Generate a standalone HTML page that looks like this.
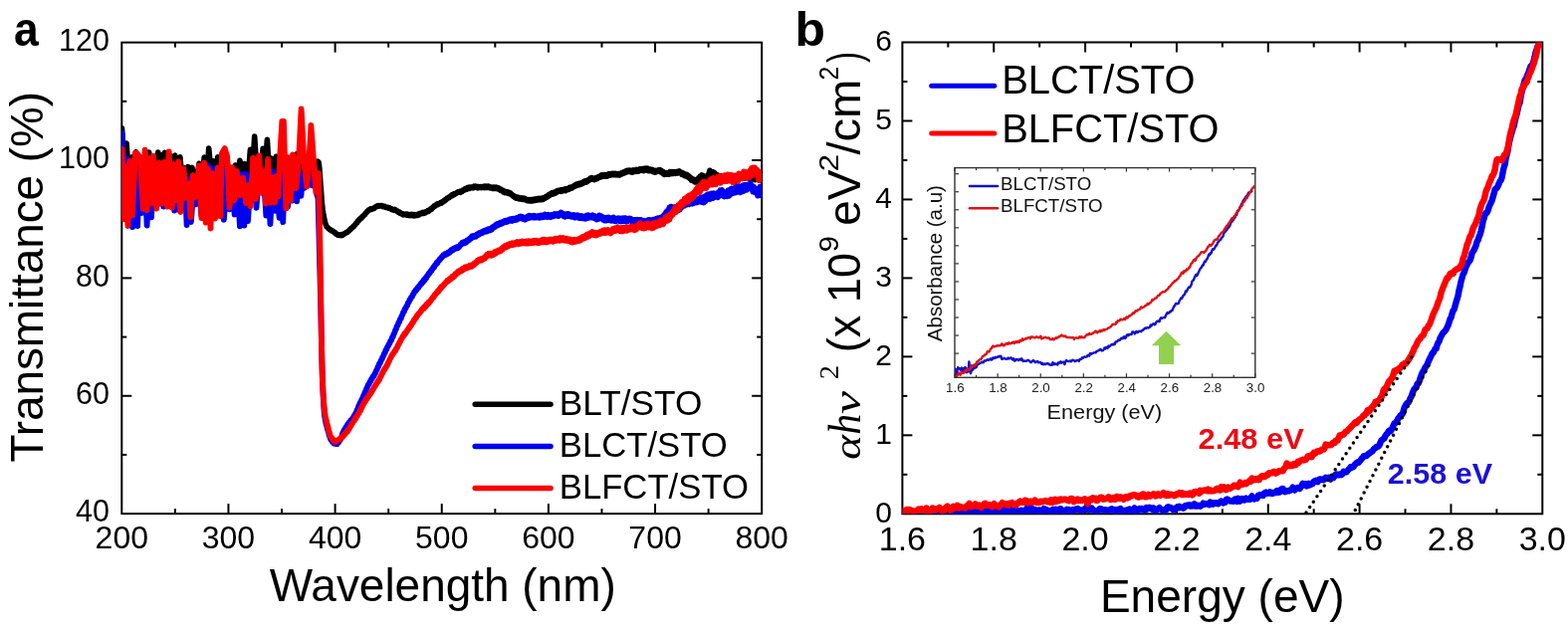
<!DOCTYPE html>
<html><head><meta charset="utf-8"><title>Figure</title>
<style>
html,body{margin:0;padding:0;background:#fff;}
body{width:1575px;height:632px;overflow:hidden;}
svg{display:block;}
text{font-family:'Liberation Sans',Arial,Helvetica,sans-serif;}
</style></head>
<body>
<svg width="1575" height="632" viewBox="0 0 1575 632">
<rect width="1575" height="632" fill="#fff"/>
<defs><clipPath id="ca"><rect x="122.3" y="42.65" width="642.9" height="473.5"/></clipPath><clipPath id="cb"><rect x="906.4" y="42.5" width="642.9" height="473.8"/></clipPath><clipPath id="ci"><rect x="959" y="168.6" width="301.8" height="210.7"/></clipPath></defs>
<rect x="122.3" y="42.65" width="642.9" height="473.5" fill="none" stroke="#000" stroke-width="2"/>
<line x1="175.88" y1="516.15" x2="175.88" y2="511.15" stroke="#000" stroke-width="2" />
<line x1="175.88" y1="42.65" x2="175.88" y2="47.65" stroke="#000" stroke-width="2" />
<line x1="229.45" y1="516.15" x2="229.45" y2="506.15" stroke="#000" stroke-width="2" />
<line x1="229.45" y1="42.65" x2="229.45" y2="52.65" stroke="#000" stroke-width="2" />
<line x1="283.03" y1="516.15" x2="283.03" y2="511.15" stroke="#000" stroke-width="2" />
<line x1="283.03" y1="42.65" x2="283.03" y2="47.65" stroke="#000" stroke-width="2" />
<line x1="336.6" y1="516.15" x2="336.6" y2="506.15" stroke="#000" stroke-width="2" />
<line x1="336.6" y1="42.65" x2="336.6" y2="52.65" stroke="#000" stroke-width="2" />
<line x1="390.18" y1="516.15" x2="390.18" y2="511.15" stroke="#000" stroke-width="2" />
<line x1="390.18" y1="42.65" x2="390.18" y2="47.65" stroke="#000" stroke-width="2" />
<line x1="443.75" y1="516.15" x2="443.75" y2="506.15" stroke="#000" stroke-width="2" />
<line x1="443.75" y1="42.65" x2="443.75" y2="52.65" stroke="#000" stroke-width="2" />
<line x1="497.33" y1="516.15" x2="497.33" y2="511.15" stroke="#000" stroke-width="2" />
<line x1="497.33" y1="42.65" x2="497.33" y2="47.65" stroke="#000" stroke-width="2" />
<line x1="550.9" y1="516.15" x2="550.9" y2="506.15" stroke="#000" stroke-width="2" />
<line x1="550.9" y1="42.65" x2="550.9" y2="52.65" stroke="#000" stroke-width="2" />
<line x1="604.48" y1="516.15" x2="604.48" y2="511.15" stroke="#000" stroke-width="2" />
<line x1="604.48" y1="42.65" x2="604.48" y2="47.65" stroke="#000" stroke-width="2" />
<line x1="658.05" y1="516.15" x2="658.05" y2="506.15" stroke="#000" stroke-width="2" />
<line x1="658.05" y1="42.65" x2="658.05" y2="52.65" stroke="#000" stroke-width="2" />
<line x1="711.62" y1="516.15" x2="711.62" y2="511.15" stroke="#000" stroke-width="2" />
<line x1="711.62" y1="42.65" x2="711.62" y2="47.65" stroke="#000" stroke-width="2" />
<line x1="122.3" y1="456.96" x2="127.3" y2="456.96" stroke="#000" stroke-width="2" />
<line x1="765.2" y1="456.96" x2="760.2" y2="456.96" stroke="#000" stroke-width="2" />
<line x1="122.3" y1="397.77" x2="132.3" y2="397.77" stroke="#000" stroke-width="2" />
<line x1="765.2" y1="397.77" x2="755.2" y2="397.77" stroke="#000" stroke-width="2" />
<line x1="122.3" y1="338.59" x2="127.3" y2="338.59" stroke="#000" stroke-width="2" />
<line x1="765.2" y1="338.59" x2="760.2" y2="338.59" stroke="#000" stroke-width="2" />
<line x1="122.3" y1="279.4" x2="132.3" y2="279.4" stroke="#000" stroke-width="2" />
<line x1="765.2" y1="279.4" x2="755.2" y2="279.4" stroke="#000" stroke-width="2" />
<line x1="122.3" y1="220.21" x2="127.3" y2="220.21" stroke="#000" stroke-width="2" />
<line x1="765.2" y1="220.21" x2="760.2" y2="220.21" stroke="#000" stroke-width="2" />
<line x1="122.3" y1="161.02" x2="132.3" y2="161.02" stroke="#000" stroke-width="2" />
<line x1="765.2" y1="161.02" x2="755.2" y2="161.02" stroke="#000" stroke-width="2" />
<line x1="122.3" y1="101.84" x2="127.3" y2="101.84" stroke="#000" stroke-width="2" />
<line x1="765.2" y1="101.84" x2="760.2" y2="101.84" stroke="#000" stroke-width="2" />
<text x="122.3" y="550.7" font-size="32" text-anchor="middle" fill="#000" >200</text>
<text x="229.45" y="550.7" font-size="32" text-anchor="middle" fill="#000" >300</text>
<text x="336.6" y="550.7" font-size="32" text-anchor="middle" fill="#000" >400</text>
<text x="443.75" y="550.7" font-size="32" text-anchor="middle" fill="#000" >500</text>
<text x="550.9" y="550.7" font-size="32" text-anchor="middle" fill="#000" >600</text>
<text x="658.05" y="550.7" font-size="32" text-anchor="middle" fill="#000" >700</text>
<text x="765.2" y="550.7" font-size="32" text-anchor="middle" fill="#000" >800</text>
<text x="110" y="524.35" font-size="30.5" text-anchor="end" fill="#000" >40</text>
<text x="110" y="405.97" font-size="30.5" text-anchor="end" fill="#000" >60</text>
<text x="110" y="287.6" font-size="30.5" text-anchor="end" fill="#000" >80</text>
<text x="110" y="169.22" font-size="30.5" text-anchor="end" fill="#000" >100</text>
<text x="110" y="50.85" font-size="30.5" text-anchor="end" fill="#000" >120</text>
<g clip-path="url(#ca)">
<polyline fill="none" stroke="#000" stroke-width="5.6" stroke-linejoin="round" stroke-linecap="round"  points="122.5,129 125.3,174.9 127.1,144.1 129.9,185 132.6,157.7 134.7,182 136.6,152.7 138.7,179.2 141,165.1 143.6,177.4 146.6,154.2 148.2,177.6 149.7,153.1 152,179.8 154.8,160.7 157,179.4 158.8,153 160.6,176.3 162.3,155.9 163.7,174 165.4,153.3 168.2,179.2 170.9,156.3 173.5,184.4 175.8,156 178.5,181.4 180.9,157.8 182.9,182.3 184.6,168.5 186.6,174.5 188.9,167.7 191.3,179.3 193,168.4 194.8,182.5 196.4,172.5 198.1,177.7 200,164.3 202.5,184 205.2,158.1 208,178.3 209.7,149 212.6,178.5 214.3,161.9 216.7,178.3 218.7,157.8 220.5,184.8 223.3,161.5 225.5,182.2 228.1,159.9 230.1,184.9 231.8,170.3 234.2,180.8 236.4,166 238.4,177.9 240.9,161.2 243.1,178 245.9,164.7 248.8,185 251.4,150.4 253,180.5 255.7,137.1 258.1,174.6 260.3,158.5 262.1,183.3 264.1,149.2 266.1,171.9 268.4,140.3 270.2,171.9 272.3,158.9 274.6,179 277.4,157.3 279.7,180.4 282.5,154.6 285.3,184.6 287.4,160.7 290.3,183 293,163.6 295.5,177.3 298.5,154.6 300.5,183.2 302,152.7 304.8,173.8 306.4,160 308.6,177.9 311.1,157.5 314,180.3 316.4,165.8 318.1,184.7 318.5,163.8 319.3,162.3 320.1,163.2 320.9,169.6 321.7,181.8 322.5,191.6 323.3,203.4 324.1,210.4 324.9,215.9 325.7,219.6 326.5,223.4 327.3,225.7 328.1,227.7 328.9,228.3 329.7,229.5 330.5,229.7 331.3,230.8 332.1,230.9 332.9,231.8 333.7,231.7 334.5,232.6 335.3,232.7 336.1,233.9 336.9,233.9 337.7,235.3 338.5,235.2 339.3,236.2 340.1,235.9 340.9,236.5 341.7,236 342.5,236.6 343.3,235.6 344.1,236.2 344.9,235.2 345.7,235.2 346.5,234.2 347.3,234.2 348.1,233.2 348.9,233.4 349.7,232.3 350.5,232.3 351.3,230.8 352.1,230.6 352.9,229.2 353.7,229.2 354.5,227.8 355.3,227.6 356.1,226.1 356.9,225.8 357.7,224.3 358.5,223.9 359.3,222.3 360.1,222.1 360.9,220.4 361.7,220.3 362.5,219 363.3,219.1 364.1,217.5 364.9,217.3 365.7,216 366.5,215.6 367.3,214.1 368.1,213.8 368.9,212.1 369.7,212.1 370.5,210.8 371.3,210.9 372.1,209.9 372.9,210.4 373.7,209.8 374.5,210 375.3,209.1 376.1,209.3 376.9,208 377.7,208 378.5,207 379.3,207.4 380.1,206.7 380.9,207.1 381.7,206.5 382.5,207 383.3,206.6 384.1,207.5 384.9,207 385.7,207.7 386.5,207.4 387.3,208.3 388.1,208 388.9,208.6 389.7,208.4 390.5,209.2 391.3,208.8 392.1,209.8 392.9,209.5 393.7,210.7 394.5,210.4 395.3,211.1 396.1,210.5 396.9,211.5 397.7,211.1 398.5,212.2 399.3,212 400.1,213.3 400.9,212.9 401.7,214.2 402.5,213.9 403.3,214.9 404.1,214.8 404.9,215.8 405.7,215.1 406.5,215.7 407.3,215.1 408.1,216 408.9,215.2 409.7,216.1 410.5,215.7 411.3,216.5 412.1,215.6 412.9,216.4 413.7,215.4 414.5,216.6 415.3,215.7 416.1,216.7 416.9,215.8 417.7,216.5 418.5,215.8 419.3,216.4 420.1,215.3 420.9,215.9 421.7,214.7 422.5,215 423.3,214 424.1,214.3 424.9,213.5 425.7,214.3 426.5,213.4 427.3,213.8 428.1,212.5 428.9,212.8 429.7,211.6 430.5,212.2 431.3,210.9 432.1,211 432.9,209.6 433.7,210 434.5,208.5 435.3,208.5 436.1,206.8 436.9,207.3 437.7,206 438.5,206.1 439.3,205 440.1,205.5 440.9,204.6 441.7,204.8 442.5,203.6 443.3,204.1 444.1,202.9 444.9,203.2 445.7,201.8 446.5,202 447.3,200.6 448.1,200.6 448.9,199.4 449.7,199.4 450.5,198.3 451.3,198.6 452.1,197.2 452.9,197.3 453.7,195.9 454.5,196.6 455.3,195.1 456.1,195.6 456.9,194.5 457.7,194.8 458.5,193.8 459.3,193.8 460.1,192.8 460.9,193.2 461.7,192.5 462.5,193.3 463.3,192.2 464.1,192.5 464.9,191.2 465.7,191.4 466.5,190.2 467.3,190.5 468.1,189.4 468.9,190 469.7,188.8 470.5,189.4 471.3,188.3 472.1,189.2 472.9,188.1 473.7,188.5 474.5,187.9 475.3,188.7 476.1,187.3 476.9,188.1 477.7,187.2 478.5,188.3 479.3,187.7 480.1,188.7 480.9,187.6 481.7,188.4 482.5,187.7 483.3,188.5 484.1,187.7 484.9,188.3 485.7,187.5 486.5,188.5 487.3,187.3 488.1,188.5 488.9,187.3 489.7,188.4 490.5,187.3 491.3,188.6 492.1,187.7 492.9,188.8 493.7,188.3 494.5,189.2 495.3,188.3 496.1,189.4 496.9,188.3 497.7,189.2 498.5,188.3 499.3,189.5 500.1,188.9 500.9,190 501.7,189.4 502.5,191 503.3,190.3 504.1,191.8 504.9,191.3 505.7,192.9 506.5,192.1 507.3,193.5 508.1,192.6 508.9,193.7 509.7,192.9 510.5,194.3 511.3,193.5 512.1,194.8 512.9,194.3 513.7,195.8 514.5,195.5 515.3,197.1 516.1,196.8 516.9,198.2 517.7,197.6 518.5,199 519.3,198.3 520.1,199.4 520.9,198.4 521.7,199.8 522.5,199.1 523.3,200 524.1,199 524.9,200.3 525.7,199.3 526.5,200.2 527.3,199.4 528.1,200.9 528.9,200.4 529.7,201.6 530.5,200.9 531.3,201.7 532.1,200.6 532.9,201.7 533.7,200.8 534.5,201.9 535.3,200.5 536.1,201.5 536.9,200.1 537.7,201.2 538.5,200 539.3,201.1 540.1,199.7 540.9,200.8 541.7,199.5 542.5,200.5 543.3,199.4 544.1,200.5 544.9,199.3 545.7,200.2 546.5,198.6 547.3,199.3 548.1,197.8 548.9,198.5 549.7,196.8 550.5,197.6 551.3,195.7 552.1,196.3 552.9,194.6 553.7,195.1 554.5,194 555.3,195 556.1,193.5 556.9,194.4 557.7,192.9 558.5,193.7 559.3,192 560.1,192.6 560.9,191.4 561.7,192.1 562.5,191.3 563.3,192.2 564.1,190.8 564.9,191.9 565.7,190.6 566.5,191.4 567.3,190.1 568.1,191.5 568.9,189.7 569.7,190.8 570.5,189.4 571.3,190.2 572.1,188.4 572.9,189.3 573.7,188.1 574.5,188.9 575.3,187.3 576.1,187.9 576.9,186.5 577.7,187 578.5,185.3 579.3,186.5 580.1,184.8 580.9,185.8 581.7,184.5 582.5,185.5 583.3,184.3 584.1,184.9 584.9,183.5 585.7,184.2 586.5,182.4 587.3,183.2 588.1,181.9 588.9,183.1 589.7,181.5 590.5,182 591.3,180.4 592.1,180.9 592.9,179.2 593.7,180.1 594.5,178.8 595.3,180.1 596.1,179.2 596.9,180.5 597.7,179.1 598.5,180 599.3,178.4 600.1,179.3 600.9,177.9 601.7,178.4 602.5,177.1 603.3,177.7 604.1,176 604.9,177.3 605.7,175.9 606.5,176.6 607.3,175.7 608.1,177.1 608.9,175.7 609.7,177.1 610.5,175.3 611.3,176.5 612.1,174.7 612.9,176.1 613.7,174.6 614.5,175.6 615.3,174.4 616.1,175.6 616.9,174.5 617.7,175.6 618.5,174.4 619.3,175.7 620.1,174.9 620.9,175.7 621.7,174.6 622.5,175.9 623.3,174.4 624.1,175 624.9,173.7 625.7,174.3 626.5,172.9 627.3,173.7 628.1,172.3 628.9,173.1 629.7,171.5 630.5,172.6 631.3,171.1 632.1,172.4 632.9,171.2 633.7,172.8 634.5,171.6 635.3,173 636.1,171 636.9,172.6 637.7,171.1 638.5,172.2 639.3,170.5 640.1,172.1 640.9,170.6 641.7,172.1 642.5,169.9 643.3,171.2 644.1,170 644.9,171 645.7,169.7 646.5,171.6 647.3,169.3 648.1,171 648.9,169.1 649.7,170.8 650.5,169.3 651.3,171.5 652.1,169.9 652.9,171.6 653.7,170.3 654.5,171.6 655.3,170.5 656.1,172.6 656.9,171.3 657.7,173.2 658.5,171.3 659.3,172.8 660.1,171.4 660.9,172.1 661.7,170.9 662.5,172 663.3,170.8 664.1,173 664.9,171.8 665.7,174.2 666.5,172.8 667.3,175.3 668.1,173.8 668.9,175 669.7,173.6 670.5,175.2 671.3,173.9 672.1,175.1 672.9,172.7 673.7,174 674.5,172.7 675.3,174.5 676.1,172.7 676.9,174.3 677.7,172.8 678.5,174.3 679.3,172.6 680.1,173.8 680.9,172.4 681.7,173.7 682.5,172 683.3,173.9 684.1,173.1 684.9,175.2 685.7,173.7 686.5,175.8 687.3,174.6 688.1,176.7 688.9,175.1 689.7,177.2 690.5,175.7 691.3,178.2 692.1,176.9 692.9,179.4 693.7,178.4 694.5,181.2 695.3,179.9 696.1,181.5 696.9,180.2 697.7,182.8 698.5,181.3 699.3,182.9 700.1,180.9 700.9,181.8 701.7,178.8 702.5,179.7 703.3,177.1 704.1,177.6 704.9,176 705.7,177.3 706.5,176.6 707.3,178.9 708.1,178.7 708.9,180.8 709.7,179.5 710.5,180.6 711.3,175.5 712.1,174.5 712.9,171.3 713.7,173.5 714.5,172.6 715.3,174.2 716.1,172.8 716.9,175.4 717.7,173.6 718.5,176 719.3,175.1 720.1,177.9 720.9,175.9 721.7,178 722.5,176.8 723.3,178.7 724.1,176.8 724.9,178.7 725.7,177.7 726.5,180.1 727.3,178.2 728.1,180.2 728.9,177.8 729.7,179.7 730.5,178 731.3,179 732.1,177.3 732.9,178.5 733.7,177 734.5,179.5 735.3,177.1 736.1,179.5 736.9,177.7 737.7,179.8 738.5,177.5 739.3,179.7 740.1,177 740.9,178.8 741.7,176.6 742.5,178.2 743.3,176.2 744.1,178.2 744.9,176.6 745.7,179.3 746.5,177.4 747.3,179.2 748.1,176.8 748.9,178.9 749.7,177.1 750.5,178.9 751.3,176.9 752.1,179.3 752.9,176.9 753.7,178.7 754.5,176.8 755.3,179.7 756.1,177.8 756.9,179.5 757.7,178.3 758.5,180.7 759.3,178 760.1,180.2 760.9,178.6 761.7,180.3 762.5,178.6 763.3,181.3 764.1,179.5 764.9,181.1"/>
<polyline fill="none" stroke="#0000f0" stroke-width="5.8" stroke-linejoin="round" stroke-linecap="round"  points="122.5,134 125.2,217.1 127.1,159.2 128.7,218.1 131,164.4 133.1,228.2 135.6,166.9 138.2,227.1 139.8,173.8 142.2,214.1 145,165.6 147.6,226.5 150.1,170.8 152,218.3 154.3,177.7 156.7,207.6 158.7,177.4 160.7,204.6 162.8,174.9 164.3,207.5 166,171.2 167.6,204.4 170.4,170.7 172,205.8 173.6,182.8 175.2,211.5 177.4,166.9 179.3,210.7 181.9,185.3 183.8,207.4 185.5,175.6 187.6,226.2 190.3,179.5 191.9,223 194.6,185.7 197,205.3 199.9,179.5 202.3,216.2 204.4,176.9 207.2,214.8 209.2,166.3 211.7,212.6 214.4,169.3 216.9,209.3 219,168.6 221,209 222.8,167.3 224.9,220.9 227.6,181.9 230.5,210.3 232.9,168.8 235.6,215.6 238.2,179.2 240.9,227.4 243.3,175.2 245.3,226.7 247,174.7 249,222.2 251.7,179 254.2,201.1 255.9,175.2 257.5,208.9 260.4,167.8 263,193.8 265.2,182 267.3,216.5 269.5,169.6 271.4,225 274.4,172.1 276.2,211.8 277.8,186.4 280.6,218.8 282.7,169.8 284.2,223.2 286.2,173.7 289.1,207.8 292,180.6 293.7,201.6 295.4,167.9 298.2,202.3 300,168.5 302.4,196.9 303.8,177.5 305.7,188.9 307.8,173.4 310,186.2 312.9,175.8 314.5,186.6 316.3,168.5 318,194.5 319.5,199.5 320.3,231 321.1,263.7 321.9,295.2 322.7,332.9 323.5,368.2 324.3,390.9 325.1,407.2 325.9,417 326.7,421.7 327.5,425.9 328.3,428.3 329.1,431.8 329.9,433.9 330.7,437.5 331.5,439.5 332.3,441.9 333.1,442.6 333.9,444.1 334.7,444.1 335.5,445.6 336.3,445.2 337.1,446.1 337.9,445.7 338.7,446.1 339.5,444.4 340.3,444.3 341.1,442.5 341.9,441.8 342.7,439.5 343.5,438 344.3,434.8 345.1,433.5 345.9,431.7 346.7,431 347.5,429 348.3,428.7 349.1,426.5 349.9,426 350.7,424.3 351.5,424.1 352.3,422.2 353.1,422 353.9,420.5 354.7,420.2 355.5,418 356.3,417.4 357.1,415.2 357.9,414.4 358.7,411.7 359.5,410.6 360.3,407.8 361.1,406.5 361.9,404.2 362.7,403.2 363.5,401.1 364.3,400 365.1,397.6 365.9,396.3 366.7,393.7 367.5,392.7 368.3,390.1 369.1,388.9 369.9,386.5 370.7,385.9 371.5,383.6 372.3,382.9 373.1,380.8 373.9,380.2 374.7,378.2 375.5,378 376.3,375.7 377.1,374.8 377.9,372.3 378.7,371.5 379.5,368.9 380.3,368.1 381.1,365.1 381.9,364.6 382.7,362 383.5,361.4 384.3,358.8 385.1,357.8 385.9,355.4 386.7,354.4 387.5,351.8 388.3,351.1 389.1,348.6 389.9,347.7 390.7,345.6 391.5,344.9 392.3,342.3 393.1,341.9 393.9,339 394.7,338.4 395.5,335.6 396.3,334.5 397.1,331.8 397.9,330.5 398.7,327.7 399.5,326.9 400.3,324.4 401.1,323.4 401.9,320.9 402.7,320.1 403.5,317.5 404.3,316.2 405.1,313.5 405.9,313.1 406.7,310.4 407.5,309.9 408.3,307.6 409.1,306.9 409.9,304.1 410.7,303.6 411.5,301.3 412.3,300.6 413.1,298.6 413.9,298.1 414.7,296 415.5,295.3 416.3,293 417.1,292.7 417.9,290.9 418.7,291 419.5,289.2 420.3,289.1 421.1,287 421.9,286.8 422.7,284.9 423.5,285.1 424.3,283.2 425.1,283.3 425.9,281 426.7,281.4 427.5,279.1 428.3,279.3 429.1,277 429.9,276.7 430.7,274.7 431.5,274.6 432.3,272.8 433.1,272.5 433.9,270.6 434.7,270.2 435.5,268.2 436.3,268.4 437.1,266 437.9,265.8 438.7,263.8 439.5,264.1 440.3,262.1 441.1,261.8 441.9,260.1 442.7,260.1 443.5,258.3 444.3,258.3 445.1,256.4 445.9,256.8 446.7,255.2 447.5,256 448.3,254.7 449.1,255.4 449.9,253.7 450.7,254.5 451.5,252.9 452.3,253.3 453.1,251.3 453.9,251.8 454.7,250.4 455.5,251.1 456.3,249.5 457.1,250 457.9,248.8 458.7,249.5 459.5,248.1 460.3,248.9 461.1,247.4 461.9,247.3 462.7,245.4 463.5,245.4 464.3,243.7 465.1,244.7 465.9,243.3 466.7,244.1 467.5,242.9 468.3,243.6 469.1,241.4 469.9,242.1 470.7,240.5 471.5,240.9 472.3,239.2 473.1,239.6 473.9,237.5 474.7,238.7 475.5,237 476.3,238 477.1,237.1 477.9,237.8 478.7,235.8 479.5,236.5 480.3,234.7 481.1,235.6 481.9,234 482.7,234.5 483.5,233.2 484.3,234.2 485.1,232.4 485.9,233 486.7,231.7 487.5,232.8 488.3,231.4 489.1,232.4 489.9,230.6 490.7,231.6 491.5,230.1 492.3,231.4 493.1,229.8 493.9,230.7 494.7,228.2 495.5,228.9 496.3,227.3 497.1,227.9 497.9,226.1 498.7,227.1 499.5,225.1 500.3,226.2 501.1,224.4 501.9,225.4 502.7,223.8 503.5,224.9 504.3,223.4 505.1,224.1 505.9,222.5 506.7,223.3 507.5,221.7 508.3,223 509.1,221.8 509.9,222.7 510.7,220.9 511.5,221.6 512.3,220.2 513.1,221.6 513.9,220 514.7,221.9 515.5,219.8 516.3,221.3 517.1,219.7 517.9,220.9 518.7,219.3 519.5,220.6 520.3,218.7 521.1,219.4 521.9,217.7 522.7,219.2 523.5,217.6 524.3,219.4 525.1,218 525.9,220.1 526.7,219.1 527.5,220.7 528.3,218.8 529.1,219.6 529.9,217.4 530.7,219.2 531.5,216.7 532.3,218.7 533.1,217.1 533.9,218.1 534.7,217 535.5,218.4 536.3,216.9 537.1,218.6 537.9,217.4 538.7,218.5 539.5,217.3 540.3,218.4 541.1,217.1 541.9,218.8 542.7,216.8 543.5,218.4 544.3,216.4 545.1,218.2 545.9,216.2 546.7,217.9 547.5,215.5 548.3,217.7 549.1,216.1 549.9,218.1 550.7,215.7 551.5,217.7 552.3,216.5 553.1,218.2 553.9,215.9 554.7,217.4 555.5,215.7 556.3,217.1 557.1,215 557.9,216.7 558.7,215.2 559.5,216.4 560.3,215.1 561.1,217 561.9,214.8 562.7,215.9 563.5,213.5 564.3,215.4 565.1,214.6 565.9,217.1 566.7,215.7 567.5,217.7 568.3,215.2 569.1,216.9 569.9,215.1 570.7,217.1 571.5,215.1 572.3,217.2 573.1,216 573.9,217.7 574.7,216.4 575.5,217.8 576.3,215.9 577.1,218.5 577.9,216.5 578.7,218.4 579.5,216.3 580.3,218 581.1,216.6 581.9,219 582.7,217 583.5,219.1 584.3,217 585.1,219.3 585.9,217.4 586.7,219.4 587.5,217.5 588.3,219.8 589.1,216.8 589.9,219.1 590.7,216.2 591.5,218.8 592.3,216.7 593.1,218.5 593.9,216.7 594.7,217.9 595.5,216.4 596.3,218.9 597.1,217 597.9,219.6 598.7,218.2 599.5,220.5 600.3,218.5 601.1,219.9 601.9,216.4 602.7,218.9 603.5,217 604.3,219.5 605.1,217.8 605.9,220.7 606.7,218.7 607.5,221.5 608.3,219 609.1,221.4 609.9,218.7 610.7,221 611.5,218.6 612.3,221.2 613.1,219.3 613.9,221.7 614.7,219.1 615.5,220.9 616.3,218.5 617.1,222 617.9,219.8 618.7,222.3 619.5,219.6 620.3,221.6 621.1,219.3 621.9,222 622.7,219.4 623.5,222.5 624.3,219.7 625.1,221.7 625.9,219.3 626.7,222.3 627.5,219.1 628.3,222 629.1,219.5 629.9,222.8 630.7,219.9 631.5,221.9 632.3,219.5 633.1,221.3 633.9,219.9 634.7,222.4 635.5,220.8 636.3,223.6 637.1,220.9 637.9,223.6 638.7,221.2 639.5,223.5 640.3,220.7 641.1,223.8 641.9,220.9 642.7,223.6 643.5,220.9 644.3,224.4 645.1,221.7 645.9,224.5 646.7,221.8 647.5,224.7 648.3,222 649.1,225.3 649.9,222.4 650.7,224.8 651.5,220.9 652.3,224.4 653.1,221 653.9,224.1 654.7,221.7 655.5,225 656.3,220.8 657.1,224.2 657.9,220.4 658.7,223 659.5,219.7 660.3,222.9 661.1,219.1 661.9,223.2 662.7,218.9 663.5,222.6 664.3,219 665.1,221.4 665.9,217.3 666.7,219.9 667.5,215.8 668.3,217.6 669.1,213.1 669.9,215.1 670.7,211.8 671.5,213.5 672.3,208.7 673.1,211.5 673.9,207.7 674.7,211 675.5,208.5 676.3,211.7 677.1,208.2 677.9,212.7 678.7,208.2 679.5,211.7 680.3,207.9 681.1,211.4 681.9,207.4 682.7,210.7 683.5,205.5 684.3,208.9 685.1,204 685.9,206.8 686.7,203.8 687.5,206.8 688.3,202.7 689.1,206 689.9,202.1 690.7,205 691.5,201.3 692.3,205.3 693.1,201.3 693.9,203.6 694.7,199.6 695.5,204.7 696.3,199.5 697.1,204 697.9,200.3 698.7,203.6 699.5,200.3 700.3,203.4 701.1,199.9 701.9,202.6 702.7,199.3 703.5,202 704.3,198.8 705.1,203.1 705.9,198.4 706.7,203.6 707.5,197.5 708.3,202.3 709.1,196.6 709.9,200.8 710.7,195.5 711.5,199.4 712.3,195.2 713.1,200.2 713.9,194.6 714.7,199.2 715.5,194.4 716.3,199.1 717.1,194.3 717.9,198.1 718.7,195 719.5,197.9 720.3,194.1 721.1,198.3 721.9,193.2 722.7,195.8 723.5,191.3 724.3,196.4 725.1,190.9 725.9,196.1 726.7,192.6 727.5,197.6 728.3,193.2 729.1,196.3 729.9,193.3 730.7,197.2 731.5,191.2 732.3,196.9 733.1,190.9 733.9,195.2 734.7,189.4 735.5,194.5 736.3,189.6 737.1,192.9 737.9,189.3 738.7,193.6 739.5,187 740.3,192.3 741.1,187.6 741.9,192.5 742.7,187.3 743.5,193.4 744.3,187.4 745.1,192.7 745.9,186.5 746.7,192.2 747.5,186 748.3,190.4 749.1,185.9 749.9,190.8 750.7,186.9 751.5,189.6 752.3,185.1 753.1,189.4 753.9,184.3 754.7,189.4 755.5,186.7 756.3,192.6 757.1,187.5 757.9,193.2 758.7,189.4 759.5,193.8 760.3,190.3 761.1,196.7 761.9,191.9 762.7,196.4 763.5,187.7 764.3,192.8"/>
<polyline fill="none" stroke="#ff0000" stroke-width="5.8" stroke-linejoin="round" stroke-linecap="round"  points="122.5,149.8 124.5,220.3 126.8,167.4 128.4,227 130.3,161.9 133.1,216.3 135.7,154 137.3,154 140.6,157.8 143.7,209.8 145.6,150.6 147.6,211.1 149.9,158.8 152.3,204.6 154,156.6 157.1,209.7 159.9,163.4 162.7,204.3 164.9,162.9 167.9,207.6 169.6,152.4 172.7,208.6 174.4,165 177.4,201.2 179.2,162.5 181.3,213 184.4,169.3 186.2,198.8 189.4,184.2 191.4,218 193.9,176.2 196.9,197.9 200,166.5 202.5,219.2 205,163.7 206.7,223.7 208.8,169.3 211.5,229.5 213.3,174.2 216,219.7 218.7,168.6 221.2,217.3 222.9,154.2 225.7,149 228.2,157.3 230.5,208.6 233.1,168.1 235.1,201.3 237.8,172 240.8,196.2 244,178.7 247.1,204 249.9,185.9 251.6,207.3 254.2,158.6 257,200 260.2,156.3 262.5,193.2 264.8,172.2 267,204.6 269.1,160 271.3,203.7 274.3,178.4 276,203.7 277.6,176.8 279.3,197.7 281.3,154.8 283.3,122 284.9,122 287.4,209.3 289.3,158.2 291.9,201.3 294.1,155.5 297.2,189.1 300.1,159.8 302.6,109.5 305.3,160.3 308.1,187.7 310.2,166.4 312.4,126 315.6,169.7 317.3,193 320,174.1 320.5,200.5 321.3,241.7 322.1,286.2 322.9,340.5 323.7,378 324.5,393.8 325.3,405.9 326.1,413.3 326.9,418.9 327.7,422.1 328.5,426 329.3,428.3 330.1,432.4 330.9,434.6 331.7,438 332.5,439 333.3,440.5 334.1,440.9 334.9,442.8 335.7,442.9 336.5,444 337.3,443.3 338.1,443.6 338.9,442.4 339.7,442.4 340.5,441.3 341.3,441.3 342.1,440.1 342.9,440.2 343.7,438.8 344.5,438.8 345.3,436.9 346.1,436.8 346.9,435 347.7,435 348.5,433.4 349.3,433.4 350.1,431.4 350.9,430.8 351.7,428.7 352.5,428 353.3,426 354.1,425.3 354.9,423.6 355.7,423 356.5,420.7 357.3,420.6 358.1,418.5 358.9,417.8 359.7,415.9 360.5,415.4 361.3,413.3 362.1,412.6 362.9,409.9 363.7,409.2 364.5,406.7 365.3,406.1 366.1,403.8 366.9,403.5 367.7,401.1 368.5,401 369.3,398.7 370.1,398.4 370.9,396.7 371.7,396.4 372.5,394.4 373.3,393.9 374.1,392 374.9,391.2 375.7,389.2 376.5,388.5 377.3,386.5 378.1,385.9 378.9,383.8 379.7,383.5 380.5,381.6 381.3,381.1 382.1,378.6 382.9,377.6 383.7,375.4 384.5,374.6 385.3,372.4 386.1,371.6 386.9,369.6 387.7,369.2 388.5,367.1 389.3,366.4 390.1,363.8 390.9,362.8 391.7,360.5 392.5,359.7 393.3,357.3 394.1,356.8 394.9,355 395.7,354.5 396.5,352.5 397.3,352.3 398.1,350 398.9,349.4 399.7,346.7 400.5,346.1 401.3,343.7 402.1,343.2 402.9,340.7 403.7,340.1 404.5,338 405.3,337.7 406.1,335.5 406.9,335.7 407.7,333.6 408.5,333.3 409.3,331.4 410.1,331.1 410.9,328.8 411.7,328.9 412.5,326.8 413.3,326.5 414.1,324.3 414.9,323.9 415.7,321.7 416.5,321.6 417.3,319.4 418.1,319.2 418.9,317 419.7,316.7 420.5,315 421.3,314.8 422.1,313.2 422.9,312.9 423.7,310.7 424.5,310.7 425.3,309.1 426.1,309.6 426.9,307.4 427.7,307.9 428.5,305.7 429.3,306 430.1,304.1 430.9,304.5 431.7,302.6 432.5,302.6 433.3,300.6 434.1,300.2 434.9,298.4 435.7,298.4 436.5,296.3 437.3,296.2 438.1,294.3 438.9,294.4 439.7,292.4 440.5,292.8 441.3,290.6 442.1,290.7 442.9,288.5 443.7,288.7 444.5,287.2 445.3,287.2 446.1,285.3 446.9,285.4 447.7,283.6 448.5,283.7 449.3,281.8 450.1,282.5 450.9,280.9 451.7,281.3 452.5,279.4 453.3,280 454.1,278 454.9,278.9 455.7,277 456.5,277.5 457.3,275.3 458.1,275.6 458.9,274 459.7,274.4 460.5,272.5 461.3,273.3 462.1,271.9 462.9,272.4 463.7,270.6 464.5,271.5 465.3,269.9 466.1,270.6 466.9,268.6 467.7,269.5 468.5,268.3 469.3,269.1 470.1,267.8 470.9,268.4 471.7,266.9 472.5,267.9 473.3,266.5 474.1,267.7 474.9,266 475.7,266.4 476.5,264.4 477.3,264.9 478.1,263.4 478.9,263.7 479.7,261.7 480.5,262.3 481.3,260.9 482.1,261.8 482.9,260.2 483.7,261.5 484.5,259.7 485.3,260.5 486.1,259.1 486.9,259.6 487.7,257.5 488.5,258.1 489.3,255.7 490.1,256.5 490.9,254.8 491.7,256.4 492.5,254.7 493.3,256.7 494.1,255.1 494.9,256.3 495.7,254.2 496.5,255.3 497.3,253 498.1,254.4 498.9,252.4 499.7,253.2 500.5,251.6 501.3,252.7 502.1,251.3 502.9,252.3 503.7,250.1 504.5,251.1 505.3,248.5 506.1,249 506.9,247.3 507.7,248.5 508.5,246.7 509.3,248.1 510.1,246 510.9,247.1 511.7,245.2 512.5,246.4 513.3,244.7 514.1,246 514.9,244.4 515.7,245.9 516.5,244.5 517.3,245.4 518.1,243.8 518.9,244.7 519.7,243.1 520.5,244.9 521.3,243.6 522.1,244.9 522.9,243.1 523.7,244.5 524.5,242.4 525.3,244.3 526.1,242.9 526.9,244.3 527.7,242.7 528.5,244.6 529.3,242.6 530.1,244.6 530.9,242.3 531.7,244.2 532.5,242.4 533.3,244.3 534.1,243 534.9,243.8 535.7,241.9 536.5,243.9 537.3,241.7 538.1,243.5 538.9,241.7 539.7,243.9 540.5,242.6 541.3,244.1 542.1,242.3 542.9,243.4 543.7,241.5 544.5,243.3 545.3,240.7 546.1,242.5 546.9,240.7 547.7,243.3 548.5,241.8 549.3,243.4 550.1,241.3 550.9,242.6 551.7,240.8 552.5,242.4 553.3,240.6 554.1,242.3 554.9,240.7 555.7,242.8 556.5,240.4 557.3,242 558.1,239.7 558.9,241.8 559.7,239.9 560.5,241.6 561.3,239.6 562.1,241.7 562.9,239 563.7,241 564.5,239.4 565.3,241.2 566.1,239.1 566.9,241.5 567.7,240.4 568.5,241.7 569.3,239.7 570.1,241.8 570.9,240.9 571.7,242.3 572.5,240.5 573.3,243 574.1,241.1 574.9,243.5 575.7,241.2 576.5,243.1 577.3,240.8 578.1,242.8 578.9,240.9 579.7,242.2 580.5,240.4 581.3,241.9 582.1,240 582.9,241.7 583.7,239 584.5,240.1 585.3,237.9 586.1,239.8 586.9,237.8 587.7,239 588.5,236.6 589.3,238.2 590.1,235.4 590.9,237.8 591.7,234.9 592.5,236.9 593.3,234.3 594.1,235.4 594.9,233.1 595.7,235.8 596.5,234.1 597.3,236.2 598.1,233.8 598.9,236.5 599.7,234.7 600.5,235.7 601.3,233.7 602.1,234.7 602.9,233 603.7,234.7 604.5,232.2 605.3,233.8 606.1,231.4 606.9,233.9 607.7,231.2 608.5,234 609.3,231.3 610.1,233.6 610.9,231.1 611.7,233.5 612.5,231.8 613.3,234.5 614.1,231.7 614.9,233.1 615.7,229.9 616.5,231.9 617.3,229.5 618.1,232.1 618.9,229.3 619.7,231 620.5,228.2 621.3,231.1 622.1,229.2 622.9,232.2 623.7,229.3 624.5,232.3 625.3,228.6 626.1,232.2 626.9,229.4 627.7,231.3 628.5,228.5 629.3,231.9 630.1,229 630.9,231 631.7,228.7 632.5,230.5 633.3,228 634.1,230.5 634.9,227.4 635.7,230.3 636.5,229 637.3,231.2 638.1,229 638.9,230.6 639.7,226.5 640.5,229.1 641.3,226.1 642.1,228.3 642.9,224.2 643.7,228.6 644.5,225.5 645.3,229.3 646.1,227 646.9,229.6 647.7,225.8 648.5,229.1 649.3,224.9 650.1,228.4 650.9,224.5 651.7,228.5 652.5,225.6 653.3,228.2 654.1,225.9 654.9,229.4 655.7,224.8 656.5,228.9 657.3,224 658.1,227.9 658.9,223.8 659.7,227.1 660.5,223.4 661.3,226.1 662.1,223 662.9,226.3 663.7,221.5 664.5,225 665.3,221.5 666.1,225.4 666.9,221.2 667.7,223 668.5,218.5 669.3,221.6 670.1,217.1 670.9,221.7 671.7,218 672.5,220.6 673.3,215.7 674.1,217.4 674.9,214 675.7,215.6 676.5,211.6 677.3,213.4 678.1,209 678.9,213.2 679.7,208 680.5,211.3 681.3,206.1 682.1,210.1 682.9,204.8 683.7,207.3 684.5,203 685.3,206.3 686.1,202.6 686.9,205 687.7,199.7 688.5,203.6 689.3,198.9 690.1,203 690.9,197.2 691.7,201.6 692.5,196.1 693.3,198.9 694.1,196.2 694.9,199.6 695.7,194.8 696.5,198.2 697.3,193.3 698.1,195.5 698.9,190.7 699.7,193.8 700.5,188.6 701.3,193 702.1,187.7 702.9,193.1 703.7,186.6 704.5,190.1 705.3,183.7 706.1,188 706.9,182.6 707.7,188.8 708.5,184.1 709.3,189.2 710.1,184.6 710.9,186.9 711.7,182.5 712.5,185.8 713.3,180.6 714.1,184.7 714.9,179.7 715.7,185.7 716.5,179 717.3,184.9 718.1,180.8 718.9,185.4 719.7,180 720.5,183.3 721.3,177.3 722.1,181.6 722.9,177.2 723.7,183.9 724.5,178.5 725.3,182.6 726.1,177.6 726.9,182.1 727.7,176.2 728.5,182.2 729.3,176.8 730.1,182.2 730.9,175.5 731.7,180.2 732.5,176.1 733.3,181.7 734.1,175.7 734.9,182.2 735.7,177.3 736.5,183.5 737.3,176.3 738.1,182 738.9,176.6 739.7,181 740.5,176.5 741.3,181.9 742.1,174.5 742.9,179 743.7,175 744.5,179.3 745.3,174.9 746.1,179.2 746.9,172.5 747.7,177.9 748.5,173.2 749.3,177.4 750.1,173.1 750.9,179 751.7,173.3 752.5,178.2 753.3,171.4 754.1,176.7 754.9,169 755.7,174.3 756.5,168.3 757.3,175.7 758.1,168.3 758.9,175.2 759.7,170.1 760.5,175.6 761.3,171.6 762.1,181 762.9,176.1 763.7,180.7 764.5,176.6"/>
</g>
<rect x="906.4" y="42.5" width="642.9" height="473.8" fill="none" stroke="#000" stroke-width="2"/>
<line x1="952.32" y1="516.3" x2="952.32" y2="511.3" stroke="#000" stroke-width="2" />
<line x1="952.32" y1="42.5" x2="952.32" y2="47.5" stroke="#000" stroke-width="2" />
<line x1="998.24" y1="516.3" x2="998.24" y2="506.3" stroke="#000" stroke-width="2" />
<line x1="998.24" y1="42.5" x2="998.24" y2="52.5" stroke="#000" stroke-width="2" />
<line x1="1044.16" y1="516.3" x2="1044.16" y2="511.3" stroke="#000" stroke-width="2" />
<line x1="1044.16" y1="42.5" x2="1044.16" y2="47.5" stroke="#000" stroke-width="2" />
<line x1="1090.09" y1="516.3" x2="1090.09" y2="506.3" stroke="#000" stroke-width="2" />
<line x1="1090.09" y1="42.5" x2="1090.09" y2="52.5" stroke="#000" stroke-width="2" />
<line x1="1136.01" y1="516.3" x2="1136.01" y2="511.3" stroke="#000" stroke-width="2" />
<line x1="1136.01" y1="42.5" x2="1136.01" y2="47.5" stroke="#000" stroke-width="2" />
<line x1="1181.93" y1="516.3" x2="1181.93" y2="506.3" stroke="#000" stroke-width="2" />
<line x1="1181.93" y1="42.5" x2="1181.93" y2="52.5" stroke="#000" stroke-width="2" />
<line x1="1227.85" y1="516.3" x2="1227.85" y2="511.3" stroke="#000" stroke-width="2" />
<line x1="1227.85" y1="42.5" x2="1227.85" y2="47.5" stroke="#000" stroke-width="2" />
<line x1="1273.77" y1="516.3" x2="1273.77" y2="506.3" stroke="#000" stroke-width="2" />
<line x1="1273.77" y1="42.5" x2="1273.77" y2="52.5" stroke="#000" stroke-width="2" />
<line x1="1319.69" y1="516.3" x2="1319.69" y2="511.3" stroke="#000" stroke-width="2" />
<line x1="1319.69" y1="42.5" x2="1319.69" y2="47.5" stroke="#000" stroke-width="2" />
<line x1="1365.61" y1="516.3" x2="1365.61" y2="506.3" stroke="#000" stroke-width="2" />
<line x1="1365.61" y1="42.5" x2="1365.61" y2="52.5" stroke="#000" stroke-width="2" />
<line x1="1411.54" y1="516.3" x2="1411.54" y2="511.3" stroke="#000" stroke-width="2" />
<line x1="1411.54" y1="42.5" x2="1411.54" y2="47.5" stroke="#000" stroke-width="2" />
<line x1="1457.46" y1="516.3" x2="1457.46" y2="506.3" stroke="#000" stroke-width="2" />
<line x1="1457.46" y1="42.5" x2="1457.46" y2="52.5" stroke="#000" stroke-width="2" />
<line x1="1503.38" y1="516.3" x2="1503.38" y2="511.3" stroke="#000" stroke-width="2" />
<line x1="1503.38" y1="42.5" x2="1503.38" y2="47.5" stroke="#000" stroke-width="2" />
<line x1="906.4" y1="476.82" x2="911.4" y2="476.82" stroke="#000" stroke-width="2" />
<line x1="1549.3" y1="476.82" x2="1544.3" y2="476.82" stroke="#000" stroke-width="2" />
<line x1="906.4" y1="437.33" x2="916.4" y2="437.33" stroke="#000" stroke-width="2" />
<line x1="1549.3" y1="437.33" x2="1539.3" y2="437.33" stroke="#000" stroke-width="2" />
<line x1="906.4" y1="397.85" x2="911.4" y2="397.85" stroke="#000" stroke-width="2" />
<line x1="1549.3" y1="397.85" x2="1544.3" y2="397.85" stroke="#000" stroke-width="2" />
<line x1="906.4" y1="358.37" x2="916.4" y2="358.37" stroke="#000" stroke-width="2" />
<line x1="1549.3" y1="358.37" x2="1539.3" y2="358.37" stroke="#000" stroke-width="2" />
<line x1="906.4" y1="318.88" x2="911.4" y2="318.88" stroke="#000" stroke-width="2" />
<line x1="1549.3" y1="318.88" x2="1544.3" y2="318.88" stroke="#000" stroke-width="2" />
<line x1="906.4" y1="279.4" x2="916.4" y2="279.4" stroke="#000" stroke-width="2" />
<line x1="1549.3" y1="279.4" x2="1539.3" y2="279.4" stroke="#000" stroke-width="2" />
<line x1="906.4" y1="239.92" x2="911.4" y2="239.92" stroke="#000" stroke-width="2" />
<line x1="1549.3" y1="239.92" x2="1544.3" y2="239.92" stroke="#000" stroke-width="2" />
<line x1="906.4" y1="200.43" x2="916.4" y2="200.43" stroke="#000" stroke-width="2" />
<line x1="1549.3" y1="200.43" x2="1539.3" y2="200.43" stroke="#000" stroke-width="2" />
<line x1="906.4" y1="160.95" x2="911.4" y2="160.95" stroke="#000" stroke-width="2" />
<line x1="1549.3" y1="160.95" x2="1544.3" y2="160.95" stroke="#000" stroke-width="2" />
<line x1="906.4" y1="121.47" x2="916.4" y2="121.47" stroke="#000" stroke-width="2" />
<line x1="1549.3" y1="121.47" x2="1539.3" y2="121.47" stroke="#000" stroke-width="2" />
<line x1="906.4" y1="81.98" x2="911.4" y2="81.98" stroke="#000" stroke-width="2" />
<line x1="1549.3" y1="81.98" x2="1544.3" y2="81.98" stroke="#000" stroke-width="2" />
<text x="906.4" y="552.6" font-size="34" text-anchor="middle" fill="#000" >1.6</text>
<text x="998.24" y="552.6" font-size="34" text-anchor="middle" fill="#000" >1.8</text>
<text x="1090.09" y="552.6" font-size="34" text-anchor="middle" fill="#000" >2.0</text>
<text x="1181.93" y="552.6" font-size="34" text-anchor="middle" fill="#000" >2.2</text>
<text x="1273.77" y="552.6" font-size="34" text-anchor="middle" fill="#000" >2.4</text>
<text x="1365.61" y="552.6" font-size="34" text-anchor="middle" fill="#000" >2.6</text>
<text x="1457.46" y="552.6" font-size="34" text-anchor="middle" fill="#000" >2.8</text>
<text x="1549.3" y="552.6" font-size="34" text-anchor="middle" fill="#000" >3.0</text>
<text x="896" y="524.5" font-size="30" text-anchor="end" fill="#000" >0</text>
<text x="896" y="445.53" font-size="30" text-anchor="end" fill="#000" >1</text>
<text x="896" y="366.57" font-size="30" text-anchor="end" fill="#000" >2</text>
<text x="896" y="287.6" font-size="30" text-anchor="end" fill="#000" >3</text>
<text x="896" y="208.63" font-size="30" text-anchor="end" fill="#000" >4</text>
<text x="896" y="129.67" font-size="30" text-anchor="end" fill="#000" >5</text>
<text x="896" y="50.7" font-size="30" text-anchor="end" fill="#000" >6</text>
<g clip-path="url(#cb)">
<polyline fill="none" stroke="#0000f0" stroke-width="6.4" stroke-linejoin="round" stroke-linecap="round"  points="906.6,515.8 907.6,516 908.6,516 909.6,516 910.6,515.3 911.6,515 912.6,513.9 913.6,515.4 914.6,516 915.6,516 916.6,516 917.6,516 918.6,515.6 919.6,514.9 920.6,515.3 921.6,515.9 922.6,515.1 923.6,516 924.6,514.4 925.6,513.3 926.6,513.7 927.6,513.3 928.6,514.1 929.6,516 930.6,515.6 931.6,515.9 932.6,516 933.6,516 934.6,515.6 935.6,516 936.6,516 937.6,515.7 938.6,515.6 939.6,514.1 940.6,514.4 941.6,515.3 942.6,516 943.6,515.3 944.6,515.5 945.6,516 946.6,516 947.6,516 948.6,516 949.6,515.3 950.6,515.2 951.6,515.7 952.6,515.2 953.6,515.3 954.6,516 955.6,515.5 956.6,514.7 957.6,516 958.6,516 959.6,516 960.6,516 961.6,515.3 962.6,514.8 963.6,514.7 964.6,515.6 965.6,516 966.6,515.1 967.6,516 968.6,514.7 969.6,515 970.6,516 971.6,516 972.6,515.2 973.6,513.7 974.6,514.8 975.6,514.7 976.6,516 977.6,515.4 978.6,514.7 979.6,513.6 980.6,513.7 981.6,513.6 982.6,515.2 983.6,514.7 984.6,514.8 985.6,513.8 986.6,514.1 987.6,515.2 988.6,513.2 989.6,512.3 990.6,513.7 991.6,512.8 992.6,513.3 993.6,514.2 994.6,513.2 995.6,514 996.6,513.3 997.6,514.9 998.6,514.8 999.6,513 1000.6,512.7 1001.6,512.4 1002.6,513.4 1003.6,513.9 1004.6,512.2 1005.6,513.3 1006.6,511.8 1007.6,511.5 1008.6,511.6 1009.6,514.6 1010.6,513.6 1011.6,513.1 1012.6,512.6 1013.6,513.3 1014.6,511.2 1015.6,513 1016.6,514.9 1017.6,513 1018.6,513 1019.6,513.3 1020.6,512.2 1021.6,512.9 1022.6,513.8 1023.6,513.3 1024.6,513.1 1025.6,512.6 1026.6,513 1027.6,513.2 1028.6,514.3 1029.6,513.7 1030.6,512.1 1031.6,510.5 1032.6,513 1033.6,513.4 1034.6,511.5 1035.6,510.3 1036.6,511.3 1037.6,513 1038.6,511.8 1039.6,512 1040.6,513 1041.6,513.9 1042.6,512.9 1043.6,512.4 1044.6,512.5 1045.6,514.3 1046.6,514 1047.6,512.4 1048.6,511.1 1049.6,511.7 1050.6,512.8 1051.6,512.3 1052.6,513.4 1053.6,513.2 1054.6,513.1 1055.6,513.4 1056.6,513 1057.6,511.8 1058.6,512.6 1059.6,514.4 1060.6,511.8 1061.6,512.1 1062.6,513.4 1063.6,512.4 1064.6,511.4 1065.6,511.2 1066.6,513 1067.6,513.9 1068.6,514.1 1069.6,513.1 1070.6,513.3 1071.6,511.8 1072.6,512.3 1073.6,511.9 1074.6,512.7 1075.6,513.5 1076.6,513.5 1077.6,512.1 1078.6,513.4 1079.6,512.1 1080.6,511.4 1081.6,511.7 1082.6,511 1083.6,512.2 1084.6,512.7 1085.6,512.5 1086.6,512.9 1087.6,512.3 1088.6,512 1089.6,511.1 1090.6,511.9 1091.6,511.5 1092.6,511.8 1093.6,512.3 1094.6,512.2 1095.6,510.5 1096.6,510.5 1097.6,511.9 1098.6,512.9 1099.6,513.1 1100.6,513.6 1101.6,514 1102.6,513.2 1103.6,512.2 1104.6,511.2 1105.6,511.1 1106.6,511.7 1107.6,512.5 1108.6,512.6 1109.6,512.3 1110.6,512.3 1111.6,512.9 1112.6,512.7 1113.6,512.7 1114.6,512.5 1115.6,511.6 1116.6,511.2 1117.6,512.5 1118.6,512.7 1119.6,512 1120.6,512.3 1121.6,514.1 1122.6,511.9 1123.6,511.8 1124.6,512 1125.6,511.1 1126.6,512.4 1127.6,514 1128.6,513.5 1129.6,513 1130.6,512.8 1131.6,512.5 1132.6,512.9 1133.6,511.9 1134.6,511.5 1135.6,512.1 1136.6,512.9 1137.6,512.6 1138.6,512.1 1139.6,510.4 1140.6,513 1141.6,514.6 1142.6,513.5 1143.6,511.6 1144.6,510.9 1145.6,511.5 1146.6,511 1147.6,512 1148.6,511.5 1149.6,512.7 1150.6,512.6 1151.6,510 1152.6,511.2 1153.6,510.6 1154.6,509.8 1155.6,510.5 1156.6,511.3 1157.6,512 1158.6,510.4 1159.6,512.4 1160.6,513.6 1161.6,512.4 1162.6,511.9 1163.6,511 1164.6,510.1 1165.6,511.4 1166.6,511.7 1167.6,512.4 1168.6,513.7 1169.6,512.3 1170.6,511.8 1171.6,512 1172.6,509.5 1173.6,509.2 1174.6,509.8 1175.6,510 1176.6,510.9 1177.6,510.7 1178.6,512.3 1179.6,512.3 1180.6,511.2 1181.6,510 1182.6,510.6 1183.6,510.4 1184.6,508.9 1185.6,509.7 1186.6,510.1 1187.6,509.8 1188.6,510.7 1189.6,510 1190.6,508 1191.6,508 1192.6,507.5 1193.6,508.1 1194.6,507.4 1195.6,508.5 1196.6,508.4 1197.6,508.5 1198.6,507.1 1199.6,506.3 1200.6,508.5 1201.6,507.7 1202.6,508.4 1203.6,507.8 1204.6,508 1205.6,508.7 1206.6,507.7 1207.6,507.6 1208.6,505.6 1209.6,506.8 1210.6,506.3 1211.6,506.1 1212.6,506.2 1213.6,506.8 1214.6,507.2 1215.6,504.6 1216.6,505.3 1217.6,505.3 1218.6,506.5 1219.6,505.5 1220.6,505.7 1221.6,505.3 1222.6,506.1 1223.6,506.2 1224.6,504.9 1225.6,504.6 1226.6,503.6 1227.6,504.9 1228.6,505.4 1229.6,504.4 1230.6,504.8 1231.6,502.1 1232.6,501.5 1233.6,502.1 1234.6,503 1235.6,503.6 1236.6,503.5 1237.6,503.5 1238.6,503.8 1239.6,502.5 1240.6,501.4 1241.6,501.8 1242.6,503.8 1243.6,500.7 1244.6,502 1245.6,503.6 1246.6,502.6 1247.6,501.1 1248.6,501.7 1249.6,502.6 1250.6,502.4 1251.6,500.7 1252.6,501.5 1253.6,501.4 1254.6,501.9 1255.6,501.8 1256.6,499.8 1257.6,498.5 1258.6,500.1 1259.6,501.4 1260.6,500.3 1261.6,499.9 1262.6,500.7 1263.6,498.1 1264.6,498.5 1265.6,497.3 1266.6,497.3 1267.6,497.5 1268.6,498 1269.6,495.9 1270.6,495.2 1271.6,494.5 1272.6,495.9 1273.6,495.5 1274.6,495.6 1275.6,494.4 1276.6,494.9 1277.6,495.9 1278.6,495.1 1279.6,495.5 1280.6,495.2 1281.6,493.9 1282.6,493.1 1283.6,494.9 1284.6,494.7 1285.6,494.5 1286.6,491.8 1287.6,491.2 1288.6,491 1289.6,492.4 1290.6,494.2 1291.6,493.9 1292.6,493.2 1293.6,493.1 1294.6,493.4 1295.6,492.5 1296.6,492.6 1297.6,491.8 1298.6,489.7 1299.6,491.1 1300.6,492.5 1301.6,491.1 1302.6,490.5 1303.6,489.9 1304.6,490 1305.6,491 1306.6,489.5 1307.6,487.7 1308.6,485.9 1309.6,487.2 1310.6,486.2 1311.6,486.3 1312.6,488.4 1313.6,488 1314.6,485.8 1315.6,487.4 1316.6,487 1317.6,485.8 1318.6,486 1319.6,483.8 1320.6,483.3 1321.6,482.8 1322.6,483.2 1323.6,484.2 1324.6,482.1 1325.6,481.4 1326.6,481.5 1327.6,482.1 1328.6,481.8 1329.6,482.2 1330.6,480.7 1331.6,479.8 1332.6,480.3 1333.6,480.6 1334.6,479.8 1335.6,480.8 1336.6,481.6 1337.6,479.5 1338.6,479.4 1339.6,479.9 1340.6,477.8 1341.6,476.7 1342.6,476.4 1343.6,477.4 1344.6,477.4 1345.6,476.4 1346.6,476.4 1347.6,477.1 1348.6,476.1 1349.6,473.7 1350.6,474.1 1351.6,474.3 1352.6,474.2 1353.6,472.8 1354.6,471.7 1355.6,470.8 1356.6,469.4 1357.6,469.9 1358.6,469.2 1359.6,469 1360.6,467.1 1361.6,466.3 1362.6,465 1363.6,464.3 1364.6,464.8 1365.6,463.4 1366.6,462.7 1367.6,460.9 1368.6,460.4 1369.6,458.4 1370.6,458.2 1371.6,457.9 1372.6,458 1373.6,456.9 1374.6,455.8 1375.6,455.7 1376.6,454.6 1377.6,454 1378.6,453.3 1379.6,451.7 1380.6,450.6 1381.6,450.1 1382.6,448.9 1383.6,448.7 1384.6,448.5 1385.6,447.1 1386.6,444.5 1387.6,442.3 1388.6,441.9 1389.6,441 1390.6,440.3 1391.6,437.8 1392.6,436.4 1393.6,435.7 1394.6,433.5 1395.6,432.6 1396.6,433.1 1397.6,431.9 1398.6,429.7 1399.6,427.5 1400.6,425.3 1401.6,425.1 1402.6,423.7 1403.6,422.2 1404.6,420.2 1405.6,419.1 1406.6,417.6 1407.6,416.8 1408.6,416.1 1409.6,413.3 1410.6,409.6 1411.6,407.9 1412.6,405.9 1413.6,405 1414.6,404.6 1415.6,402.7 1416.6,400.1 1417.6,398.5 1418.6,395.7 1419.6,392.9 1420.6,390.9 1421.6,389.8 1422.6,389.4 1423.6,385.7 1424.6,385.3 1425.6,383.4 1426.6,379.8 1427.6,377.2 1428.6,374.6 1429.6,373 1430.6,371.4 1431.6,369.1 1432.6,367.9 1433.6,366.2 1434.6,363.6 1435.6,361.5 1436.6,359.4 1437.6,357.7 1438.6,355 1439.6,354.4 1440.6,352.6 1441.6,350.5 1442.6,350.5 1443.6,346.5 1444.6,344.2 1445.6,342.9 1446.6,339.5 1447.6,338 1448.6,335.8 1449.6,334.4 1450.6,333.5 1451.6,332.3 1452.6,331 1453.6,328.8 1454.6,326.8 1455.6,323.7 1456.6,320.5 1457.6,318.9 1458.6,315 1459.6,312.1 1460.6,310.9 1461.6,307.4 1462.6,303.6 1463.6,300.6 1464.6,296.9 1465.6,291.4 1466.6,287.6 1467.6,282.7 1468.6,279.2 1469.6,275.5 1470.6,274.1 1471.6,271.1 1472.6,267.8 1473.6,266.1 1474.6,263.7 1475.6,262.9 1476.6,261.6 1477.6,258.6 1478.6,254.3 1479.6,252.8 1480.6,251.2 1481.6,248.9 1482.6,246.7 1483.6,242.7 1484.6,241.2 1485.6,238.1 1486.6,235.7 1487.6,232.3 1488.6,227.8 1489.6,222.5 1490.6,219.3 1491.6,215.8 1492.6,213.8 1493.6,213.8 1494.6,211.5 1495.6,208 1496.6,205.8 1497.6,203.6 1498.6,201.5 1499.6,198 1500.6,194.5 1501.6,190.4 1502.6,189.7 1503.6,188.8 1504.6,186.9 1505.6,184.6 1506.6,182.1 1507.6,181.2 1508.6,178.2 1509.6,173.1 1510.6,168.3 1511.6,165.4 1512.6,158.9 1513.6,155.4 1514.6,151.2 1515.6,144.4 1516.6,140.5 1517.6,136.3 1518.6,132.9 1519.6,129.5 1520.6,126.8 1521.6,122 1522.6,117.7 1523.6,114.5 1524.6,109.5 1525.6,105.6 1526.6,103.2 1527.6,96.8 1528.6,92.5 1529.6,88.9 1530.6,84.3 1531.6,80.6 1532.6,80.3 1533.6,76.9 1534.6,74.5 1535.6,72.2 1536.6,69.1 1537.6,66.4 1538.6,65.4 1539.6,64.6 1540.6,60.7 1541.6,56.9 1542.6,52.2 1543.6,49.8 1544.6,46.4 1545.6,44.8"/>
<polyline fill="none" stroke="#ff0000" stroke-width="6.4" stroke-linejoin="round" stroke-linecap="round"  points="906.6,513.5 907.6,513.6 908.6,513.4 909.6,512.7 910.6,512.1 911.6,513.4 912.6,512 913.6,511.9 914.6,512.6 915.6,512.6 916.6,513.6 917.6,514.2 918.6,513.6 919.6,513.3 920.6,513.3 921.6,513.3 922.6,511.5 923.6,512.5 924.6,511.7 925.6,511.3 926.6,512.3 927.6,512.4 928.6,513.2 929.6,513.1 930.6,510.5 931.6,512.2 932.6,514.3 933.6,513.8 934.6,513.7 935.6,512.1 936.6,510.4 937.6,510.7 938.6,512.4 939.6,512.6 940.6,511.2 941.6,511.2 942.6,511.3 943.6,509.8 944.6,511 945.6,513.2 946.6,513.6 947.6,511.9 948.6,512.6 949.6,510.6 950.6,509.4 951.6,508.7 952.6,510.9 953.6,510.9 954.6,512.6 955.6,511.2 956.6,510.1 957.6,508.9 958.6,510.9 959.6,509.9 960.6,509.1 961.6,507.9 962.6,510.2 963.6,510.5 964.6,509.1 965.6,509.4 966.6,509.8 967.6,510.1 968.6,509.7 969.6,510.5 970.6,508.8 971.6,508 972.6,507.4 973.6,505.9 974.6,507.3 975.6,509.2 976.6,508.6 977.6,507.6 978.6,507.9 979.6,506.3 980.6,507.5 981.6,508.7 982.6,508.6 983.6,507.7 984.6,509.1 985.6,509.8 986.6,508.1 987.6,508.1 988.6,506.1 989.6,505.7 990.6,507.9 991.6,507.9 992.6,507.7 993.6,507.1 994.6,507.4 995.6,508.6 996.6,509.2 997.6,507.3 998.6,506.1 999.6,508.3 1000.6,508.3 1001.6,508.1 1002.6,508 1003.6,509.3 1004.6,507.8 1005.6,507.1 1006.6,505.2 1007.6,505.7 1008.6,506 1009.6,506.6 1010.6,506.8 1011.6,506.3 1012.6,507.7 1013.6,505.7 1014.6,505.7 1015.6,506 1016.6,505.2 1017.6,506.4 1018.6,506.6 1019.6,506.2 1020.6,507.5 1021.6,506.3 1022.6,505.7 1023.6,504.3 1024.6,503.5 1025.6,504.3 1026.6,504.7 1027.6,504.8 1028.6,505.1 1029.6,502.7 1030.6,502.9 1031.6,503.2 1032.6,505.4 1033.6,504.3 1034.6,503.7 1035.6,503.6 1036.6,504.9 1037.6,504.2 1038.6,503.9 1039.6,502.6 1040.6,504.8 1041.6,504.8 1042.6,504.9 1043.6,505.1 1044.6,503.9 1045.6,503.8 1046.6,504.4 1047.6,504.2 1048.6,503.5 1049.6,503.4 1050.6,503.2 1051.6,504.2 1052.6,504.4 1053.6,504 1054.6,504.7 1055.6,502.2 1056.6,503.1 1057.6,504.6 1058.6,502.8 1059.6,501.8 1060.6,504.1 1061.6,503.6 1062.6,502.2 1063.6,503.2 1064.6,501.8 1065.6,501.4 1066.6,502.3 1067.6,502.1 1068.6,501.6 1069.6,501.9 1070.6,501.7 1071.6,502.5 1072.6,502.8 1073.6,503.2 1074.6,502 1075.6,500.9 1076.6,500.9 1077.6,502.3 1078.6,504.1 1079.6,503.5 1080.6,502.2 1081.6,502.9 1082.6,501.7 1083.6,502.9 1084.6,502.3 1085.6,503 1086.6,502.9 1087.6,502.1 1088.6,502.1 1089.6,501.2 1090.6,502 1091.6,504 1092.6,506.2 1093.6,503.6 1094.6,501.9 1095.6,501.2 1096.6,502.2 1097.6,500.3 1098.6,500.7 1099.6,501.5 1100.6,500.9 1101.6,503 1102.6,502.7 1103.6,501 1104.6,500.4 1105.6,499.6 1106.6,499.7 1107.6,501.4 1108.6,501.8 1109.6,501.5 1110.6,501.1 1111.6,500.4 1112.6,500.6 1113.6,499.3 1114.6,500.5 1115.6,502.1 1116.6,501.8 1117.6,500.1 1118.6,500.1 1119.6,501.7 1120.6,501.7 1121.6,498.9 1122.6,499.2 1123.6,500.2 1124.6,500.8 1125.6,499.3 1126.6,500 1127.6,500 1128.6,501.8 1129.6,500.4 1130.6,499.3 1131.6,499.3 1132.6,500.4 1133.6,499.9 1134.6,498.4 1135.6,498.8 1136.6,497.7 1137.6,497.7 1138.6,497.3 1139.6,497.2 1140.6,497.7 1141.6,497.9 1142.6,499.3 1143.6,499.6 1144.6,498.4 1145.6,497.7 1146.6,498.6 1147.6,496.4 1148.6,496.4 1149.6,498.8 1150.6,499.4 1151.6,499.4 1152.6,498 1153.6,496.9 1154.6,497.6 1155.6,498.4 1156.6,497.3 1157.6,496.9 1158.6,496.3 1159.6,496.7 1160.6,498.5 1161.6,498.2 1162.6,496.6 1163.6,496.3 1164.6,497 1165.6,497.8 1166.6,496.6 1167.6,496.6 1168.6,495.1 1169.6,495.9 1170.6,497.7 1171.6,498 1172.6,496.2 1173.6,496.4 1174.6,497.6 1175.6,496.8 1176.6,496.6 1177.6,497.4 1178.6,497.5 1179.6,498.2 1180.6,497.7 1181.6,496.4 1182.6,496.5 1183.6,496.3 1184.6,495.1 1185.6,495.6 1186.6,496.8 1187.6,495.4 1188.6,497 1189.6,496.8 1190.6,496.3 1191.6,496.7 1192.6,496.9 1193.6,497.1 1194.6,495.7 1195.6,495.4 1196.6,495.8 1197.6,497.4 1198.6,496.4 1199.6,494.3 1200.6,494.2 1201.6,493.9 1202.6,494.3 1203.6,494.9 1204.6,495.7 1205.6,492.8 1206.6,494.1 1207.6,493.8 1208.6,492.6 1209.6,492.6 1210.6,492.4 1211.6,492.9 1212.6,493.2 1213.6,491.6 1214.6,493.1 1215.6,492.5 1216.6,493.5 1217.6,493 1218.6,493.3 1219.6,492.8 1220.6,492.8 1221.6,491.6 1222.6,490.8 1223.6,491.9 1224.6,492.4 1225.6,492.6 1226.6,489.4 1227.6,490.3 1228.6,491.1 1229.6,489.4 1230.6,490.2 1231.6,492.2 1232.6,491.4 1233.6,489.5 1234.6,490.9 1235.6,490.9 1236.6,490.2 1237.6,489.5 1238.6,488.8 1239.6,487.6 1240.6,487.7 1241.6,488.6 1242.6,488.5 1243.6,489.2 1244.6,486.9 1245.6,484.7 1246.6,486 1247.6,486.8 1248.6,486.6 1249.6,485.8 1250.6,485.1 1251.6,486.2 1252.6,484.6 1253.6,484.8 1254.6,483.6 1255.6,482.7 1256.6,483.6 1257.6,480.6 1258.6,481.2 1259.6,482.2 1260.6,481.7 1261.6,482 1262.6,481 1263.6,480.7 1264.6,482.2 1265.6,480.2 1266.6,479.2 1267.6,478.1 1268.6,478.1 1269.6,479.1 1270.6,478.9 1271.6,477.8 1272.6,477 1273.6,477.2 1274.6,475.2 1275.6,475.6 1276.6,475.4 1277.6,474.7 1278.6,475 1279.6,474 1280.6,473.9 1281.6,475.6 1282.6,474.9 1283.6,474.5 1284.6,473.3 1285.6,473.4 1286.6,473.1 1287.6,473.3 1288.6,473.4 1289.6,470.9 1290.6,470.2 1291.6,468.8 1292.6,465.5 1293.6,466.5 1294.6,468 1295.6,468.2 1296.6,467.2 1297.6,468.1 1298.6,467.8 1299.6,466.2 1300.6,467.2 1301.6,467.2 1302.6,465.3 1303.6,463.8 1304.6,464.9 1305.6,463.5 1306.6,462.6 1307.6,462.3 1308.6,461.7 1309.6,462.5 1310.6,462.2 1311.6,461.8 1312.6,460.4 1313.6,458.4 1314.6,458.3 1315.6,458.5 1316.6,457.7 1317.6,459.1 1318.6,456.2 1319.6,455 1320.6,455.8 1321.6,455.2 1322.6,453.8 1323.6,453.2 1324.6,453.4 1325.6,453.5 1326.6,452.9 1327.6,451.6 1328.6,451.6 1329.6,451.6 1330.6,450.2 1331.6,446.6 1332.6,447.2 1333.6,447.3 1334.6,447.3 1335.6,447.4 1336.6,447.4 1337.6,446.5 1338.6,445 1339.6,444.7 1340.6,445 1341.6,442.6 1342.6,442.4 1343.6,442.6 1344.6,440.3 1345.6,437.5 1346.6,438.1 1347.6,437 1348.6,436.4 1349.6,436.5 1350.6,435.2 1351.6,433.7 1352.6,433.7 1353.6,432.6 1354.6,431.3 1355.6,430.6 1356.6,429.6 1357.6,428.2 1358.6,427.2 1359.6,426.5 1360.6,424.8 1361.6,424.1 1362.6,425.1 1363.6,423.5 1364.6,422.4 1365.6,421.5 1366.6,420.7 1367.6,419.9 1368.6,418.8 1369.6,417.4 1370.6,417.5 1371.6,415.8 1372.6,415.4 1373.6,412.3 1374.6,411.9 1375.6,412.8 1376.6,411.1 1377.6,409.6 1378.6,409.1 1379.6,407.2 1380.6,406.3 1381.6,403.7 1382.6,403.6 1383.6,402.9 1384.6,402.8 1385.6,401.8 1386.6,399.5 1387.6,399.4 1388.6,395.9 1389.6,392.3 1390.6,390.7 1391.6,392 1392.6,389.3 1393.6,386.5 1394.6,384.2 1395.6,382.5 1396.6,382.5 1397.6,380.3 1398.6,379.5 1399.6,376 1400.6,372.8 1401.6,373.6 1402.6,372.1 1403.6,371.3 1404.6,371.7 1405.6,369.9 1406.6,369.7 1407.6,368 1408.6,366.5 1409.6,366.5 1410.6,365.3 1411.6,365.8 1412.6,364.8 1413.6,362.9 1414.6,361.9 1415.6,360.4 1416.6,358.2 1417.6,357 1418.6,354.5 1419.6,352.7 1420.6,349.7 1421.6,348.4 1422.6,346.7 1423.6,344 1424.6,342.3 1425.6,341 1426.6,340.3 1427.6,338 1428.6,337.5 1429.6,337 1430.6,334.2 1431.6,331 1432.6,330.7 1433.6,330 1434.6,327.5 1435.6,326.4 1436.6,324.2 1437.6,321.5 1438.6,318.4 1439.6,315.7 1440.6,313.5 1441.6,311.4 1442.6,309.3 1443.6,306.7 1444.6,303.5 1445.6,301.2 1446.6,298.4 1447.6,293.8 1448.6,291.2 1449.6,288.5 1450.6,286.3 1451.6,283.7 1452.6,281.3 1453.6,279.2 1454.6,279 1455.6,277.4 1456.6,274.9 1457.6,274.9 1458.6,274 1459.6,274.9 1460.6,272.7 1461.6,271.5 1462.6,271.1 1463.6,270.1 1464.6,269.7 1465.6,269.8 1466.6,267.9 1467.6,266.7 1468.6,264.3 1469.6,259.6 1470.6,257.6 1471.6,253.8 1472.6,250.2 1473.6,245.8 1474.6,243.7 1475.6,240.5 1476.6,237.3 1477.6,236.6 1478.6,232.9 1479.6,229.5 1480.6,227.4 1481.6,225.8 1482.6,223.5 1483.6,220.5 1484.6,218.3 1485.6,215.2 1486.6,210.1 1487.6,207.2 1488.6,204.3 1489.6,202.6 1490.6,200.8 1491.6,196.9 1492.6,192.2 1493.6,189.9 1494.6,188.1 1495.6,184.6 1496.6,182.5 1497.6,180.3 1498.6,176.8 1499.6,176.3 1500.6,173.9 1501.6,170.4 1502.6,164.3 1503.6,160.4 1504.6,159.9 1505.6,160.3 1506.6,160.1 1507.6,160.2 1508.6,161 1509.6,159.6 1510.6,156.4 1511.6,155 1512.6,154.9 1513.6,151.4 1514.6,148.1 1515.6,143 1516.6,136.4 1517.6,132.3 1518.6,128.8 1519.6,124.3 1520.6,120.6 1521.6,117.8 1522.6,115.1 1523.6,110.4 1524.6,105.9 1525.6,101.2 1526.6,96.8 1527.6,94.8 1528.6,89.4 1529.6,88 1530.6,86.9 1531.6,84 1532.6,83.7 1533.6,82.4 1534.6,78.8 1535.6,76.8 1536.6,73.6 1537.6,72 1538.6,69.1 1539.6,66.3 1540.6,64 1541.6,60.3 1542.6,57.3 1543.6,52.8 1544.6,47.5 1545.6,44.6"/>
</g>
<rect x="959" y="168.6" width="301.8" height="210.7" fill="#fff" stroke="none"/>
<g clip-path="url(#ci)">
<polyline fill="none" stroke="#1010d0" stroke-width="2.4" stroke-linejoin="round" stroke-linecap="round"  points="959,372.5 959.8,370.8 960.6,378.3 961.4,373.4 962.2,369.2 963,369.9 963.8,370.3 964.6,371.7 965.4,370.2 966.2,369.5 967,374.4 967.8,372.5 968.6,369.9 969.4,369.1 970.2,369.9 971,374.2 971.8,372.8 972.6,373.4 973.4,363.4 974.2,371.4 975,375.2 975.8,371.6 976.6,372.1 977.4,369.9 978.2,370.3 979,369 979.8,369.6 980.6,369.1 981.4,366.8 982.2,366.4 983,365.8 983.8,365 984.6,365 985.4,364.3 986.2,363.6 987,364.3 987.8,364.2 988.6,362.5 989.4,362.5 990.2,362.5 991,361.9 991.8,361.2 992.6,361.9 993.4,361.7 994.2,361.1 995,360.3 995.8,361.6 996.6,361.2 997.4,359.4 998.2,359.4 999,360.1 999.8,358.8 1000.6,359.4 1001.4,359.1 1002.2,358.5 1003,358.6 1003.8,357.7 1004.6,358.2 1005.4,357.7 1006.2,360.8 1007,360.7 1007.8,360.4 1008.6,359.8 1009.4,360.4 1010.2,360.8 1011,360.8 1011.8,360.6 1012.6,359.5 1013.4,360.4 1014.2,359.9 1015,359.4 1015.8,359.7 1016.6,361.1 1017.4,361.6 1018.2,360.2 1019,362.5 1019.8,362.5 1020.6,361.1 1021.4,361 1022.2,361.4 1023,362.2 1023.8,361.3 1024.6,360.8 1025.4,361.7 1026.2,360.3 1027,361.9 1027.8,362.9 1028.6,362.4 1029.4,362.8 1030.2,362.7 1031,362.8 1031.8,362.4 1032.6,361.7 1033.4,362.2 1034.2,362.6 1035,363.7 1035.8,364.1 1036.6,363.2 1037.4,362.2 1038.2,362.3 1039,362.9 1039.8,364.2 1040.6,363.6 1041.4,363.2 1042.2,363 1043,364.3 1043.8,364.1 1044.6,364 1045.4,364.4 1046.2,365.7 1047,364.8 1047.8,366.2 1048.6,366.1 1049.4,365.5 1050.2,366.1 1051,365.5 1051.8,365.1 1052.6,365.6 1053.4,365.4 1054.2,366.5 1055,366.5 1055.8,366.9 1056.6,366.8 1057.4,364.2 1058.2,366.2 1059,365.1 1059.8,366.1 1060.6,365.5 1061.4,366 1062.2,366.5 1063,364.3 1063.8,365.1 1064.6,364.6 1065.4,363.2 1066.2,364.7 1067,364.2 1067.8,363.6 1068.6,363.6 1069.4,366.1 1070.2,363.5 1071,362.1 1071.8,362.6 1072.6,363 1073.4,363 1074.2,363 1075,362.4 1075.8,363.3 1076.6,362.5 1077.4,361.7 1078.2,362 1079,362.4 1079.8,363.2 1080.6,362.8 1081.4,362 1082.2,362 1083,362.1 1083.8,362.9 1084.6,360.9 1085.4,361.1 1086.2,360.9 1087,359.3 1087.8,359.6 1088.6,359.2 1089.4,358.4 1090.2,358.7 1091,358.7 1091.8,358.3 1092.6,356.9 1093.4,356.8 1094.2,357.7 1095,355.1 1095.8,355.4 1096.6,355.7 1097.4,354.9 1098.2,354.8 1099,354.3 1099.8,354.4 1100.6,354.4 1101.4,353 1102.2,352.9 1103,352.4 1103.8,351.8 1104.6,351.7 1105.4,350.8 1106.2,351.9 1107,352.5 1107.8,352.2 1108.6,351.3 1109.4,349.5 1110.2,350.6 1111,348.9 1111.8,349 1112.6,349.9 1113.4,347.6 1114.2,348.4 1115,347.7 1115.8,346.8 1116.6,346 1117.4,346.4 1118.2,345.6 1119,346.3 1119.8,345.8 1120.6,343.5 1121.4,343.5 1122.2,343.2 1123,342.1 1123.8,341.6 1124.6,342 1125.4,341.2 1126.2,339.7 1127,339.9 1127.8,340.2 1128.6,338.5 1129.4,338.3 1130.2,339.9 1131,339.2 1131.8,336.6 1132.6,336.3 1133.4,337.2 1134.2,335.9 1135,336.2 1135.8,335.9 1136.6,336 1137.4,333.5 1138.2,333.3 1139,334 1139.8,335.4 1140.6,334.3 1141.4,332.9 1142.2,334.1 1143,334.1 1143.8,333.1 1144.6,332.6 1145.4,332.9 1146.2,333.2 1147,332.1 1147.8,331.9 1148.6,331.1 1149.4,330.3 1150.2,329.6 1151,330.1 1151.8,329.4 1152.6,329.1 1153.4,329.6 1154.2,329 1155,328.6 1155.8,326.5 1156.6,327.4 1157.4,326.2 1158.2,325.5 1159,325.2 1159.8,326.2 1160.6,325.5 1161.4,323.7 1162.2,322.8 1163,323.1 1163.8,322.5 1164.6,323.2 1165.4,320.4 1166.2,319.3 1167,319.9 1167.8,319.6 1168.6,319.1 1169.4,319.1 1170.2,319.2 1171,316.8 1171.8,315.5 1172.6,314.1 1173.4,314.8 1174.2,314.6 1175,313.2 1175.8,313.3 1176.6,311.9 1177.4,312 1178.2,310.2 1179,308.2 1179.8,307.4 1180.6,305.8 1181.4,304.8 1182.2,305.4 1183,305.2 1183.8,304.9 1184.6,302.4 1185.4,301 1186.2,299.5 1187,299.9 1187.8,298.4 1188.6,296.7 1189.4,296.5 1190.2,295.1 1191,292.4 1191.8,292.9 1192.6,291.4 1193.4,289.6 1194.2,288.5 1195,288.8 1195.8,287.6 1196.6,286.2 1197.4,282.7 1198.2,281.7 1199,281.4 1199.8,278.8 1200.6,277.5 1201.4,275.8 1202.2,277.1 1203,275.6 1203.8,273.7 1204.6,272.1 1205.4,270.3 1206.2,269.1 1207,268.5 1207.8,266.5 1208.6,266.5 1209.4,264.1 1210.2,262.6 1211,262.9 1211.8,260.9 1212.6,260 1213.4,258 1214.2,255.6 1215,256.3 1215.8,254.2 1216.6,254.5 1217.4,251.6 1218.2,250.2 1219,250.7 1219.8,249.8 1220.6,248.3 1221.4,246.4 1222.2,246.5 1223,243.9 1223.8,243.2 1224.6,242 1225.4,241.2 1226.2,240.8 1227,238.8 1227.8,238.3 1228.6,237.1 1229.4,234.1 1230.2,233.2 1231,232.6 1231.8,231.4 1232.6,230.6 1233.4,228 1234.2,228.5 1235,227.5 1235.8,225.4 1236.6,223.2 1237.4,222.8 1238.2,221.4 1239,220.8 1239.8,219.2 1240.6,218.3 1241.4,216.3 1242.2,215.9 1243,211.9 1243.8,211.2 1244.6,210.7 1245.4,208 1246.2,207.7 1247,205 1247.8,204.1 1248.6,202 1249.4,200.8 1250.2,199.9 1251,198.4 1251.8,197.2 1252.6,197.8 1253.4,195.2 1254.2,193.5 1255,193.8 1255.8,193.1 1256.6,192.6 1257.4,192.2"/>
<polyline fill="none" stroke="#e01010" stroke-width="2.4" stroke-linejoin="round" stroke-linecap="round"  points="959,377.4 959.8,378.4 960.6,378.3 961.4,377.2 962.2,376.7 963,374.4 963.8,375.6 964.6,376.7 965.4,374.2 966.2,374.4 967,374.7 967.8,374.6 968.6,374.5 969.4,372.1 970.2,372.5 971,372.5 971.8,370.8 972.6,371 973.4,371.8 974.2,371 975,369.6 975.8,367.1 976.6,367.9 977.4,367.7 978.2,366.7 979,366.4 979.8,367.5 980.6,364.8 981.4,363.4 982.2,363.3 983,362.3 983.8,361.5 984.6,361 985.4,360.8 986.2,359.6 987,357.9 987.8,357.8 988.6,357.4 989.4,356.3 990.2,356.4 991,355.3 991.8,353.3 992.6,353.2 993.4,353.5 994.2,352.4 995,350.5 995.8,350.2 996.6,348.5 997.4,347.6 998.2,348.5 999,348.2 999.8,348.1 1000.6,347.6 1001.4,347.5 1002.2,347 1003,347.4 1003.8,347.5 1004.6,346.9 1005.4,347 1006.2,345.4 1007,345.8 1007.8,347.3 1008.6,347.4 1009.4,346.2 1010.2,345.6 1011,344.8 1011.8,345.7 1012.6,345.7 1013.4,344.3 1014.2,345.3 1015,345.3 1015.8,344.9 1016.6,343.9 1017.4,344.5 1018.2,343.4 1019,344.9 1019.8,343.9 1020.6,343 1021.4,344.2 1022.2,343.9 1023,342.7 1023.8,343.9 1024.6,341.9 1025.4,342.3 1026.2,342.5 1027,340.3 1027.8,341.8 1028.6,341.2 1029.4,340.8 1030.2,340.1 1031,340.6 1031.8,339.6 1032.6,339.3 1033.4,339.4 1034.2,339 1035,340.3 1035.8,338.5 1036.6,338.5 1037.4,338.7 1038.2,338.9 1039,339.4 1039.8,339.3 1040.6,338.5 1041.4,338.4 1042.2,338.8 1043,339.4 1043.8,339.3 1044.6,338.4 1045.4,337.8 1046.2,340.4 1047,340 1047.8,339.5 1048.6,339.6 1049.4,339.1 1050.2,338.8 1051,339.4 1051.8,339.6 1052.6,339.5 1053.4,339.3 1054.2,340.3 1055,341.2 1055.8,340.9 1056.6,341.1 1057.4,340.1 1058.2,341.2 1059,341.1 1059.8,340 1060.6,339.3 1061.4,340 1062.2,338.9 1063,339 1063.8,338.1 1064.6,338.3 1065.4,337.4 1066.2,336.6 1067,337.4 1067.8,337.5 1068.6,338.1 1069.4,337.5 1070.2,337.7 1071,338.6 1071.8,339 1072.6,338.9 1073.4,339.1 1074.2,338.9 1075,339.1 1075.8,339.3 1076.6,339.1 1077.4,339 1078.2,339.4 1079,340.9 1079.8,339.6 1080.6,339.4 1081.4,339.4 1082.2,339.7 1083,339.9 1083.8,338.9 1084.6,338.3 1085.4,339.3 1086.2,338.2 1087,339 1087.8,338.9 1088.6,339.3 1089.4,339.2 1090.2,338 1091,336.9 1091.8,336.2 1092.6,336.2 1093.4,336.3 1094.2,334.9 1095,335.8 1095.8,335.7 1096.6,335.7 1097.4,334.8 1098.2,334.7 1099,333.9 1099.8,333.6 1100.6,332.6 1101.4,333.6 1102.2,334.4 1103,333.4 1103.8,333 1104.6,332.2 1105.4,333.2 1106.2,331.9 1107,332.5 1107.8,331.9 1108.6,331 1109.4,331.9 1110.2,331.2 1111,330.9 1111.8,330.7 1112.6,330.1 1113.4,329.4 1114.2,329.4 1115,328.5 1115.8,328.2 1116.6,327.1 1117.4,326 1118.2,326 1119,325.7 1119.8,325.6 1120.6,325.7 1121.4,323.6 1122.2,323.9 1123,322.1 1123.8,322.3 1124.6,322.2 1125.4,320.7 1126.2,320.6 1127,321.5 1127.8,321.2 1128.6,320.6 1129.4,319.9 1130.2,321.1 1131,319.3 1131.8,318.4 1132.6,319.4 1133.4,318.4 1134.2,317.3 1135,317.6 1135.8,316.6 1136.6,316.3 1137.4,315.4 1138.2,314.2 1139,314.8 1139.8,313.8 1140.6,312.4 1141.4,312.1 1142.2,312.6 1143,311.4 1143.8,311.1 1144.6,310.9 1145.4,309.9 1146.2,308.4 1147,309.2 1147.8,309.1 1148.6,308.6 1149.4,308.4 1150.2,307.1 1151,306.8 1151.8,306.6 1152.6,305.1 1153.4,305.7 1154.2,305.2 1155,304.1 1155.8,304.1 1156.6,302.8 1157.4,301.1 1158.2,301.6 1159,300.7 1159.8,300.1 1160.6,299.4 1161.4,299.5 1162.2,298.4 1163,297 1163.8,297.1 1164.6,296.6 1165.4,295 1166.2,294.5 1167,293.9 1167.8,293.2 1168.6,293.3 1169.4,293.2 1170.2,293.1 1171,292.1 1171.8,291.2 1172.6,290.7 1173.4,290 1174.2,288.2 1175,288.1 1175.8,287.1 1176.6,286.1 1177.4,285 1178.2,284.2 1179,283.5 1179.8,282.3 1180.6,282.5 1181.4,281.6 1182.2,280.8 1183,280.2 1183.8,279.5 1184.6,277.9 1185.4,277.2 1186.2,275.3 1187,274 1187.8,273.6 1188.6,274.7 1189.4,272.2 1190.2,272.7 1191,272.5 1191.8,270.6 1192.6,271 1193.4,270.3 1194.2,268.9 1195,268.7 1195.8,266.6 1196.6,264.7 1197.4,264.4 1198.2,262.9 1199,261.3 1199.8,260.7 1200.6,261.9 1201.4,259.5 1202.2,258.7 1203,257.5 1203.8,257.2 1204.6,256.2 1205.4,255.2 1206.2,254 1207,253.2 1207.8,253.1 1208.6,253.3 1209.4,253.9 1210.2,252.8 1211,252.4 1211.8,250.8 1212.6,249.4 1213.4,247.9 1214.2,247.7 1215,245.8 1215.8,246.2 1216.6,246.8 1217.4,245.4 1218.2,244.8 1219,243 1219.8,241.4 1220.6,241.1 1221.4,240.5 1222.2,240.8 1223,240.3 1223.8,237.8 1224.6,236.9 1225.4,236.1 1226.2,235 1227,233.6 1227.8,233.4 1228.6,232.8 1229.4,231.6 1230.2,229.6 1231,229 1231.8,227.2 1232.6,227.5 1233.4,225.5 1234.2,224.6 1235,223.4 1235.8,222.2 1236.6,220.6 1237.4,219.3 1238.2,220.2 1239,218.4 1239.8,217.3 1240.6,217.2 1241.4,214.8 1242.2,213.9 1243,212.6 1243.8,212.1 1244.6,210.7 1245.4,209.3 1246.2,207.9 1247,207.1 1247.8,206.3 1248.6,203.3 1249.4,203.1 1250.2,202 1251,200.7 1251.8,198.7 1252.6,199 1253.4,197 1254.2,196 1255,194.5 1255.8,192.6 1256.6,191.9 1257.4,189.9 1258.2,189.1 1259,188.3 1259.8,187.2"/>
</g>
<rect x="959" y="168.6" width="301.8" height="210.7" fill="none" stroke="#333" stroke-width="1.4"/>
<line x1="959" y1="379.3" x2="959" y2="375.3" stroke="#333" stroke-width="1.2" />
<line x1="959" y1="168.6" x2="959" y2="172.6" stroke="#333" stroke-width="1.2" />
<line x1="980.56" y1="379.3" x2="980.56" y2="376.8" stroke="#333" stroke-width="1.2" />
<line x1="980.56" y1="168.6" x2="980.56" y2="171.1" stroke="#333" stroke-width="1.2" />
<line x1="1002.11" y1="379.3" x2="1002.11" y2="375.3" stroke="#333" stroke-width="1.2" />
<line x1="1002.11" y1="168.6" x2="1002.11" y2="172.6" stroke="#333" stroke-width="1.2" />
<line x1="1023.67" y1="379.3" x2="1023.67" y2="376.8" stroke="#333" stroke-width="1.2" />
<line x1="1023.67" y1="168.6" x2="1023.67" y2="171.1" stroke="#333" stroke-width="1.2" />
<line x1="1045.23" y1="379.3" x2="1045.23" y2="375.3" stroke="#333" stroke-width="1.2" />
<line x1="1045.23" y1="168.6" x2="1045.23" y2="172.6" stroke="#333" stroke-width="1.2" />
<line x1="1066.79" y1="379.3" x2="1066.79" y2="376.8" stroke="#333" stroke-width="1.2" />
<line x1="1066.79" y1="168.6" x2="1066.79" y2="171.1" stroke="#333" stroke-width="1.2" />
<line x1="1088.34" y1="379.3" x2="1088.34" y2="375.3" stroke="#333" stroke-width="1.2" />
<line x1="1088.34" y1="168.6" x2="1088.34" y2="172.6" stroke="#333" stroke-width="1.2" />
<line x1="1109.9" y1="379.3" x2="1109.9" y2="376.8" stroke="#333" stroke-width="1.2" />
<line x1="1109.9" y1="168.6" x2="1109.9" y2="171.1" stroke="#333" stroke-width="1.2" />
<line x1="1131.46" y1="379.3" x2="1131.46" y2="375.3" stroke="#333" stroke-width="1.2" />
<line x1="1131.46" y1="168.6" x2="1131.46" y2="172.6" stroke="#333" stroke-width="1.2" />
<line x1="1153.01" y1="379.3" x2="1153.01" y2="376.8" stroke="#333" stroke-width="1.2" />
<line x1="1153.01" y1="168.6" x2="1153.01" y2="171.1" stroke="#333" stroke-width="1.2" />
<line x1="1174.57" y1="379.3" x2="1174.57" y2="375.3" stroke="#333" stroke-width="1.2" />
<line x1="1174.57" y1="168.6" x2="1174.57" y2="172.6" stroke="#333" stroke-width="1.2" />
<line x1="1196.13" y1="379.3" x2="1196.13" y2="376.8" stroke="#333" stroke-width="1.2" />
<line x1="1196.13" y1="168.6" x2="1196.13" y2="171.1" stroke="#333" stroke-width="1.2" />
<line x1="1217.69" y1="379.3" x2="1217.69" y2="375.3" stroke="#333" stroke-width="1.2" />
<line x1="1217.69" y1="168.6" x2="1217.69" y2="172.6" stroke="#333" stroke-width="1.2" />
<line x1="1239.24" y1="379.3" x2="1239.24" y2="376.8" stroke="#333" stroke-width="1.2" />
<line x1="1239.24" y1="168.6" x2="1239.24" y2="171.1" stroke="#333" stroke-width="1.2" />
<line x1="1260.8" y1="379.3" x2="1260.8" y2="375.3" stroke="#333" stroke-width="1.2" />
<line x1="1260.8" y1="168.6" x2="1260.8" y2="172.6" stroke="#333" stroke-width="1.2" />
<line x1="959" y1="355.1" x2="963" y2="355.1" stroke="#333" stroke-width="1.2" />
<line x1="959" y1="337.06" x2="963" y2="337.06" stroke="#333" stroke-width="1.2" />
<line x1="959" y1="319.02" x2="963" y2="319.02" stroke="#333" stroke-width="1.2" />
<line x1="959" y1="300.98" x2="963" y2="300.98" stroke="#333" stroke-width="1.2" />
<line x1="959" y1="282.94" x2="963" y2="282.94" stroke="#333" stroke-width="1.2" />
<line x1="959" y1="264.9" x2="963" y2="264.9" stroke="#333" stroke-width="1.2" />
<line x1="959" y1="246.86" x2="963" y2="246.86" stroke="#333" stroke-width="1.2" />
<line x1="959" y1="228.82" x2="963" y2="228.82" stroke="#333" stroke-width="1.2" />
<line x1="959" y1="210.78" x2="963" y2="210.78" stroke="#333" stroke-width="1.2" />
<line x1="959" y1="192.74" x2="963" y2="192.74" stroke="#333" stroke-width="1.2" />
<line x1="959" y1="174.7" x2="963" y2="174.7" stroke="#333" stroke-width="1.2" />
<line x1="1260.8" y1="355.1" x2="1256.8" y2="355.1" stroke="#333" stroke-width="1.2" />
<line x1="1260.8" y1="319.02" x2="1256.8" y2="319.02" stroke="#333" stroke-width="1.2" />
<line x1="1260.8" y1="282.94" x2="1256.8" y2="282.94" stroke="#333" stroke-width="1.2" />
<line x1="1260.8" y1="246.86" x2="1256.8" y2="246.86" stroke="#333" stroke-width="1.2" />
<line x1="1260.8" y1="210.78" x2="1256.8" y2="210.78" stroke="#333" stroke-width="1.2" />
<line x1="1260.8" y1="174.7" x2="1256.8" y2="174.7" stroke="#333" stroke-width="1.2" />
<text x="959.3" y="393.6" font-size="13.3" text-anchor="middle" fill="#222" >1.6</text>
<text x="1002.41" y="393.6" font-size="13.3" text-anchor="middle" fill="#222" >1.8</text>
<text x="1045.53" y="393.6" font-size="13.3" text-anchor="middle" fill="#222" >2.0</text>
<text x="1088.64" y="393.6" font-size="13.3" text-anchor="middle" fill="#222" >2.2</text>
<text x="1131.76" y="393.6" font-size="13.3" text-anchor="middle" fill="#222" >2.4</text>
<text x="1174.87" y="393.6" font-size="13.3" text-anchor="middle" fill="#222" >2.6</text>
<text x="1217.99" y="393.6" font-size="13.3" text-anchor="middle" fill="#222" >2.8</text>
<text x="1261.1" y="393.6" font-size="13.3" text-anchor="middle" fill="#222" >3.0</text>
<line x1="974" y1="187" x2="1002" y2="187" stroke="#1010d0" stroke-width="2.6" stroke-linecap="round"/>
<line x1="974" y1="209.3" x2="1002" y2="209.3" stroke="#e01010" stroke-width="2.6" stroke-linecap="round"/>
<text x="1005.07" y="191.3" font-size="17.8" fill="#111" textLength="91.22" lengthAdjust="spacingAndGlyphs">BLCT/STO</text>
<text x="1005.07" y="213.3" font-size="17.8" fill="#111" textLength="102.52" lengthAdjust="spacingAndGlyphs">BLFCT/STO</text>
<text x="1051.62" y="421.4" font-size="19.9" fill="#111" textLength="115.62" lengthAdjust="spacingAndGlyphs">Energy (eV)</text>
<text transform="translate(946.4,0) rotate(-90)" x="-343.14" y="0" font-size="20.5" fill="#111" textLength="157.01" lengthAdjust="spacingAndGlyphs">Absorbance (a.u)</text>
<polygon points="1171.4,332.7 1186.3,347.2 1179.2,347.2 1179.2,366 1164,366 1164,347.2 1156.8,347.2" fill="#92d050"/>
<line x1="477.2" y1="406.2" x2="553" y2="406.2" stroke="#000" stroke-width="5.5" stroke-linecap="round"/>
<line x1="477.2" y1="448.4" x2="553" y2="448.4" stroke="#0000f0" stroke-width="5.5" stroke-linecap="round"/>
<line x1="477.2" y1="490.6" x2="553" y2="490.6" stroke="#ff0000" stroke-width="5.5" stroke-linecap="round"/>
<text x="561.77" y="417.2" font-size="34.5" fill="#000" textLength="143.68" lengthAdjust="spacingAndGlyphs">BLT/STO</text>
<text x="561.76" y="459.3" font-size="34.5" fill="#000" textLength="169.09" lengthAdjust="spacingAndGlyphs">BLCT/STO</text>
<text x="561.76" y="501.3" font-size="34.5" fill="#000" textLength="190.19" lengthAdjust="spacingAndGlyphs">BLFCT/STO</text>
<line x1="935.7" y1="86.2" x2="998.8" y2="86.2" stroke="#0000f0" stroke-width="5" stroke-linecap="round"/>
<line x1="935.7" y1="133.9" x2="998.8" y2="133.9" stroke="#ff0000" stroke-width="5" stroke-linecap="round"/>
<text x="1006.14" y="94.3" font-size="40" fill="#000" textLength="194.47" lengthAdjust="spacingAndGlyphs">BLCT/STO</text>
<text x="1006.14" y="143.3" font-size="40" fill="#000" textLength="218.46" lengthAdjust="spacingAndGlyphs">BLFCT/STO</text>
<line x1="1312" y1="514.9" x2="1419.5" y2="356.4" stroke="#000" stroke-width="3.5" stroke-linecap="round" stroke-dasharray="0 6.5"/>
<line x1="1361.3" y1="512.5" x2="1435" y2="367.4" stroke="#000" stroke-width="3.5" stroke-linecap="round" stroke-dasharray="0 6.5"/>
<text x="1203.53" y="451" font-size="30" font-weight="bold" fill="#ee0a14" textLength="106.18" lengthAdjust="spacingAndGlyphs">2.48 eV</text>
<text x="1393.84" y="486.4" font-size="30" font-weight="bold" fill="#1c10d8" textLength="105.17" lengthAdjust="spacingAndGlyphs">2.58 eV</text>
<text x="13.9" y="46.2" font-size="49" font-weight="bold" fill="#000" textLength="24.72" lengthAdjust="spacingAndGlyphs">a</text>
<text x="798.62" y="46.2" font-size="49" font-weight="bold" fill="#000" textLength="30.43" lengthAdjust="spacingAndGlyphs">b</text>
<text x="270.7" y="604.3" font-size="45.7" fill="#000" textLength="348.04" lengthAdjust="spacingAndGlyphs">Wavelength (nm)</text>
<text x="1104.92" y="615.1" font-size="46.2" fill="#000" textLength="245.73" lengthAdjust="spacingAndGlyphs">Energy (eV)</text>
<text transform="translate(43.1,0) rotate(-90)" x="-464.62" y="0" font-size="45.7" textLength="372.75" lengthAdjust="spacingAndGlyphs">Transmittance (%)</text>
<text transform="translate(864,0) rotate(-90)" x="-462.01" y="0" font-size="38.5" style="font-style:italic;font-family:'Liberation Serif','Times New Roman',serif" textLength="24.93" lengthAdjust="spacingAndGlyphs">α</text>
<text transform="translate(864,0) rotate(-90)" x="-436.71" y="0" font-size="46" style="font-style:italic;font-family:'Liberation Serif','Times New Roman',serif" textLength="20.95" lengthAdjust="spacingAndGlyphs">h</text>
<text transform="translate(864,0) rotate(-90)" x="-416.01" y="0" font-size="38.5" style="font-style:italic;font-family:'Liberation Serif','Times New Roman',serif" textLength="22.91" lengthAdjust="spacingAndGlyphs">ν</text>
<text transform="translate(864,0) rotate(-90)" x="-381.25" y="-21.9" font-size="27.7" style="font-family:'Liberation Serif','Times New Roman',serif" textLength="14.22" lengthAdjust="spacingAndGlyphs">2</text>
<text transform="translate(864,0) rotate(-90)" x="-354.3" y="0" font-size="46" textLength="100.26" lengthAdjust="spacingAndGlyphs">(x 10</text>
<text transform="translate(864,0) rotate(-90)" x="-253.26" y="-22" font-size="27.5" textLength="16.13" lengthAdjust="spacingAndGlyphs">9</text>
<text transform="translate(864,0) rotate(-90)" x="-226.85" y="0" font-size="46" textLength="56.26" lengthAdjust="spacingAndGlyphs">eV</text>
<text transform="translate(864,0) rotate(-90)" x="-172.37" y="-22" font-size="27.5" textLength="17.34" lengthAdjust="spacingAndGlyphs">2</text>
<text transform="translate(864,0) rotate(-90)" x="-155.6" y="0" font-size="46" textLength="76.01" lengthAdjust="spacingAndGlyphs">/cm</text>
<text transform="translate(864,0) rotate(-90)" x="-80.45" y="-22" font-size="27.5" textLength="13.79" lengthAdjust="spacingAndGlyphs">2</text>
<text transform="translate(864,0) rotate(-90)" x="-62.89" y="0" font-size="46" textLength="11.05" lengthAdjust="spacingAndGlyphs">)</text>
</svg>
</body></html>
